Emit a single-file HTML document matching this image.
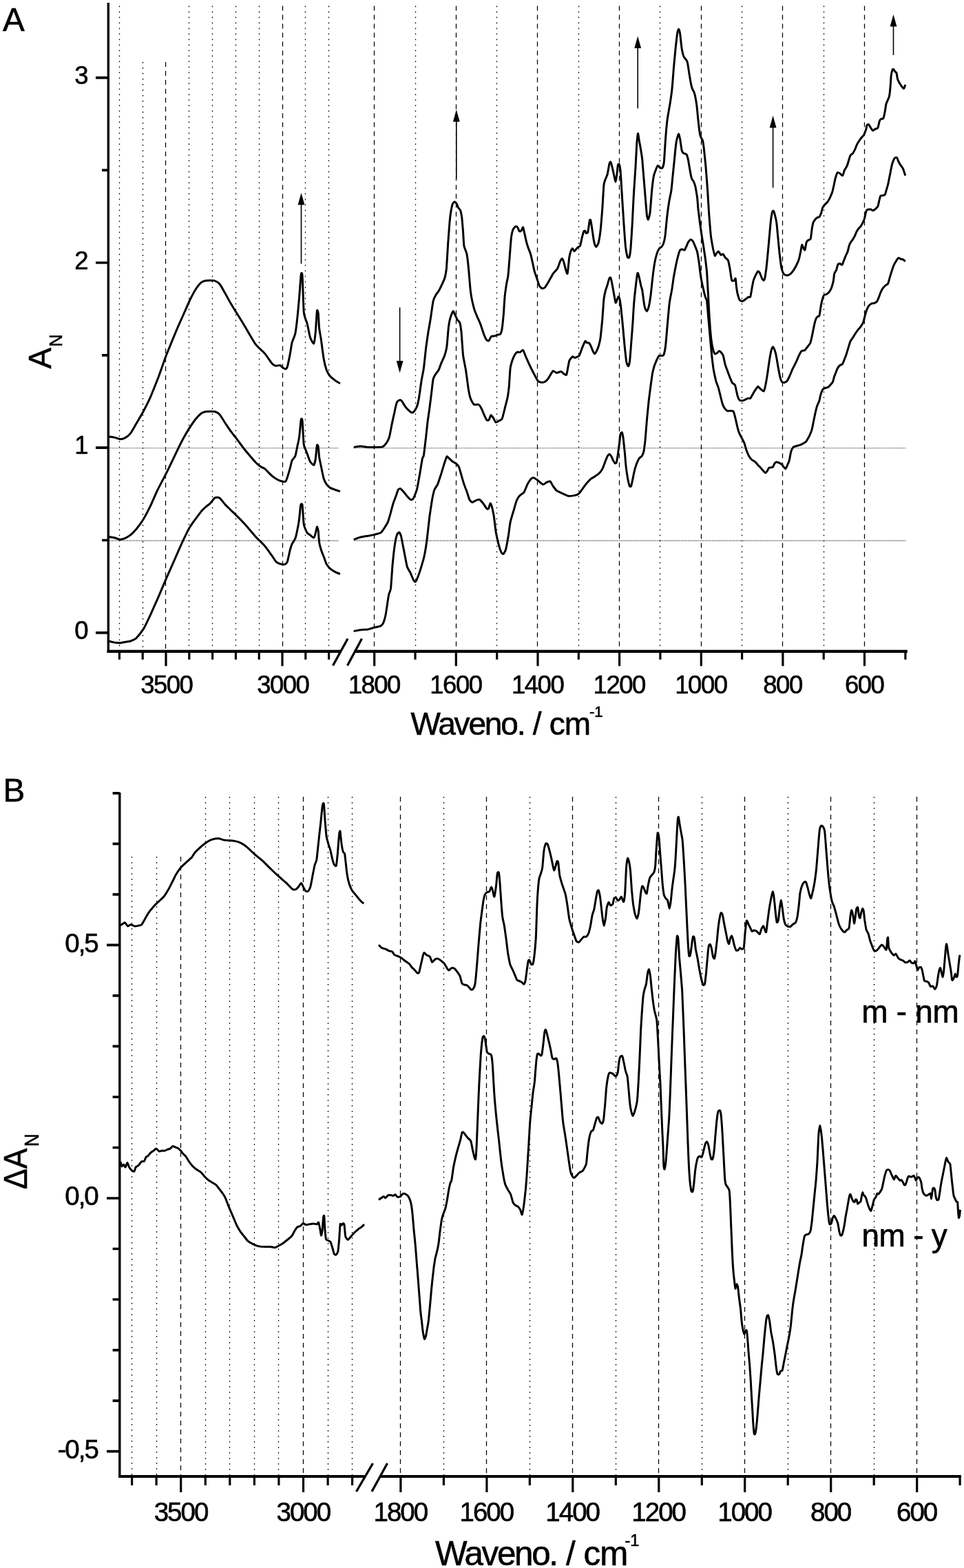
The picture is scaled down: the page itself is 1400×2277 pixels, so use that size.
<!DOCTYPE html>
<html><head><meta charset="utf-8"><title>Figure</title><style>
html,body{margin:0;padding:0;background:#fff;width:1400px;height:2277px;overflow:hidden}
svg{display:block}
.gd{stroke:#000;stroke-width:1.25;stroke-dasharray:7 6;fill:none}
.gt{stroke:#000;stroke-width:1.3;stroke-dasharray:1.7 6.3;fill:none}
.gh{stroke:#333;stroke-width:1.1;stroke-dasharray:1.3 1.2;fill:none}
.ax{stroke:#000;stroke-width:4.2;fill:none}
.ay{stroke:#000;stroke-width:3.4;fill:none}
.tk{stroke:#000;stroke-width:3.2;fill:none}
.tky{stroke:#000;stroke-width:3.7;fill:none}
.cv{stroke:#000;stroke-width:3.0;fill:none;stroke-linejoin:round;stroke-linecap:butt}
.tl{font-size:36.5px;fill:#000;letter-spacing:-1.5px}
.pl{font-size:47.5px;fill:#000}
.tb{font-size:38.5px;letter-spacing:-2.0px}
.at{font-size:46px;fill:#000}
.sup{font-size:22px;fill:#000}
.sub{font-size:25px;fill:#000}
text{font-family:"Liberation Sans",Arial,sans-serif;stroke:#000;stroke-width:0.6px}
</style></head><body>
<svg width="1400" height="2277" viewBox="0 0 1400 2277">
<rect width="1400" height="2277" fill="#fff"/>
<line x1="173.5" y1="8.5" x2="173.5" y2="945.8" class="gt"/>
<line x1="207.5" y1="90.0" x2="207.5" y2="945.8" class="gt"/>
<line x1="240.5" y1="90.0" x2="240.5" y2="945.8" class="gd"/>
<line x1="274.5" y1="8.5" x2="274.5" y2="945.8" class="gt"/>
<line x1="308.5" y1="8.5" x2="308.5" y2="945.8" class="gt"/>
<line x1="342.5" y1="8.5" x2="342.5" y2="945.8" class="gt"/>
<line x1="376.5" y1="8.5" x2="376.5" y2="945.8" class="gt"/>
<line x1="410.5" y1="8.5" x2="410.5" y2="945.8" class="gd"/>
<line x1="443.5" y1="8.5" x2="443.5" y2="945.8" class="gt"/>
<line x1="477.5" y1="8.5" x2="477.5" y2="945.8" class="gt"/>
<line x1="543.5" y1="8.5" x2="543.5" y2="945.8" class="gd"/>
<line x1="603.5" y1="8.5" x2="603.5" y2="945.8" class="gt"/>
<line x1="662.5" y1="8.5" x2="662.5" y2="945.8" class="gd"/>
<line x1="721.5" y1="8.5" x2="721.5" y2="945.8" class="gt"/>
<line x1="780.5" y1="8.5" x2="780.5" y2="945.8" class="gd"/>
<line x1="840.5" y1="8.5" x2="840.5" y2="945.8" class="gt"/>
<line x1="899.5" y1="8.5" x2="899.5" y2="945.8" class="gd"/>
<line x1="958.5" y1="8.5" x2="958.5" y2="945.8" class="gt"/>
<line x1="1018.5" y1="8.5" x2="1018.5" y2="945.8" class="gd"/>
<line x1="1077.5" y1="8.5" x2="1077.5" y2="945.8" class="gt"/>
<line x1="1136.5" y1="8.5" x2="1136.5" y2="945.8" class="gd"/>
<line x1="1196.5" y1="8.5" x2="1196.5" y2="945.8" class="gt"/>
<line x1="1255.5" y1="8.5" x2="1255.5" y2="945.8" class="gd"/>
<line x1="157.3" y1="650.7" x2="492.0" y2="650.7" class="gh"/>
<line x1="514.0" y1="650.7" x2="1316.0" y2="650.7" class="gh"/>
<line x1="157.3" y1="785.1" x2="492.0" y2="785.1" class="gh"/>
<line x1="514.0" y1="785.1" x2="1316.0" y2="785.1" class="gh"/>
<path d="M157.3 4.0 V947.9" class="ay"/>
<path d="M155.6 945.8 H495 M514.5 945.8 H1317.8" class="ax"/>
<path d="M173.4 945.8 v12.0 M207.2 945.8 v12.0 M241.0 945.8 v21.5 M274.8 945.8 v12.0 M308.6 945.8 v12.0 M342.4 945.8 v12.0 M376.2 945.8 v12.0 M410.0 945.8 v21.5 M443.8 945.8 v12.0 M477.6 945.8 v12.0 M543.7 945.8 v21.5 M603.0 945.8 v12.0 M662.3 945.8 v21.5 M721.7 945.8 v12.0 M781.0 945.8 v21.5 M840.3 945.8 v12.0 M899.6 945.8 v21.5 M958.9 945.8 v12.0 M1018.3 945.8 v21.5 M1077.6 945.8 v12.0 M1136.9 945.8 v21.5 M1196.2 945.8 v12.0 M1255.5 945.8 v21.5 M1314.9 945.8 v12.0" class="tk"/>
<path d="M157.3 918.8 h-18.3 M157.3 784.5 h-9.3 M157.3 650.1 h-18.3 M157.3 515.8 h-9.3 M157.3 381.5 h-18.3 M157.3 247.1 h-9.3 M157.3 112.8 h-18.3" class="tky"/>
<path d="M483.5 966.5 L505 927.5 M504.5 966.5 L525.5 927.5" stroke="#000" stroke-width="3.3" fill="none"/>
<text x="241.8" y="1007.3" class="tl" text-anchor="middle">3500</text>
<text x="410.8" y="1007.3" class="tl" text-anchor="middle">3000</text>
<text x="543.3" y="1007.3" class="tl" text-anchor="middle">1800</text>
<text x="661.9" y="1007.3" class="tl" text-anchor="middle">1600</text>
<text x="780.6" y="1007.3" class="tl" text-anchor="middle">1400</text>
<text x="899.2" y="1007.3" class="tl" text-anchor="middle">1200</text>
<text x="1017.9" y="1007.3" class="tl" text-anchor="middle">1000</text>
<text x="1136.5" y="1007.3" class="tl" text-anchor="middle">800</text>
<text x="1255.1" y="1007.3" class="tl" text-anchor="middle">600</text>
<text x="127.0" y="928.1" class="tl" text-anchor="end">0</text>
<text x="127.0" y="659.4" class="tl" text-anchor="end">1</text>
<text x="127.0" y="390.8" class="tl" text-anchor="end">2</text>
<text x="127.0" y="122.1" class="tl" text-anchor="end">3</text>
<text x="4" y="44.5" class="pl">A</text>
<text y="1067.0" style="font-size:46.0px"><tspan x="596.6" style="letter-spacing:-2.15px">Waveno.</tspan><tspan x="761.0"> / </tspan><tspan x="797.7" style="letter-spacing:-1.00px">cm</tspan></text>
<text x="856" y="1041" class="sup">-1</text>
<text transform="translate(74,535.5) rotate(-90)" class="at">A</text>
<text transform="translate(89.5,503.5) rotate(-90)" class="sub">N</text>
<path d="M157.9 634.1 C158.6 634.2 164.3 634.8 165.8 635.1 C167.3 635.5 173.1 637.7 174.5 637.7 C176.0 637.8 180.2 636.7 181.6 635.9 C183.0 635.1 188.1 631.1 189.5 629.3 C191.0 627.5 195.7 619.0 197.4 616.1 C199.1 613.2 206.0 601.3 208.0 597.7 C209.9 594.1 216.6 581.0 218.5 576.6 C220.4 572.3 226.9 555.8 229.1 550.3 C231.2 544.7 239.0 522.3 241.4 516.0 C243.9 509.7 253.2 487.1 255.4 481.8 C257.6 476.4 264.1 462.1 265.9 458.0 C267.8 453.9 273.5 440.5 275.2 437.0 C276.9 433.5 282.8 422.3 284.4 419.8 C286.0 417.4 291.0 411.2 292.3 410.1 C293.6 408.9 297.2 407.7 298.9 407.4 C300.6 407.2 308.9 407.0 310.7 407.4 C312.5 407.9 317.2 410.3 318.6 411.9 C320.1 413.5 325.1 422.6 326.5 425.1 C328.0 427.6 333.0 437.1 334.5 439.6 C335.9 442.1 340.7 449.6 342.6 452.8 C344.6 455.9 352.9 469.5 355.5 473.8 C358.2 478.2 368.7 496.6 371.3 500.2 C374.0 503.8 382.3 510.8 384.5 513.4 C386.7 515.9 393.6 526.2 395.1 527.9 C396.5 529.5 399.2 531.0 400.3 531.3 C401.4 531.5 406.1 530.3 406.9 530.5 C407.8 530.7 408.8 532.7 409.6 533.1 C410.3 533.6 414.1 535.9 414.8 535.8 C415.5 535.6 416.9 533.9 417.5 531.8 C418.1 529.8 420.8 516.5 421.4 513.4 C422.0 510.2 423.4 500.2 424.0 497.6 C424.7 494.9 428.1 487.8 428.8 484.4 C429.5 481.0 431.4 465.5 431.9 460.7 C432.5 455.8 434.1 437.4 434.6 431.7 C435.1 426.0 436.8 401.6 437.2 398.7 C437.6 395.8 438.7 395.1 439.1 400.1 C439.4 405.0 440.7 447.0 441.2 452.8 C441.6 458.6 443.3 461.6 443.8 463.3 C444.3 465.0 445.8 468.8 446.4 471.2 C447.0 473.6 449.5 487.1 450.4 489.7 C451.2 492.2 454.9 499.6 455.7 498.9 C456.4 498.2 457.9 486.1 458.3 481.8 C458.7 477.4 460.0 453.9 460.4 451.4 C460.8 449.0 462.0 453.1 462.3 455.4 C462.5 457.7 463.2 473.1 463.6 476.5 C463.9 479.9 465.6 488.2 466.2 492.3 C466.8 496.4 469.4 517.2 470.2 521.3 C470.9 525.4 473.3 534.8 474.1 537.1 C475.0 539.4 478.2 544.9 479.4 546.3 C480.6 547.8 486.0 551.9 487.3 552.9 C488.6 553.9 493.3 556.5 493.9 556.9" class="cv"/>
<path d="M157.9 779.5 C158.6 779.6 164.3 780.5 165.8 780.8 C167.3 781.2 173.1 783.4 174.5 783.5 C176.0 783.5 180.2 782.2 181.6 781.6 C183.0 781.0 188.1 778.0 189.5 776.9 C191.0 775.7 195.7 771.0 197.4 769.0 C199.1 766.9 206.0 757.6 208.0 754.5 C209.9 751.3 216.6 738.7 218.5 734.7 C220.4 730.7 226.9 715.3 229.1 711.0 C231.2 706.7 239.0 692.1 241.4 687.3 C243.9 682.5 253.2 662.9 255.4 658.3 C257.6 653.7 264.1 640.6 265.9 637.2 C267.8 633.8 273.5 624.1 275.2 621.4 C276.9 618.8 282.8 610.2 284.4 608.2 C286.0 606.3 291.0 601.3 292.3 600.3 C293.6 599.4 297.1 597.9 298.9 597.7 C300.7 597.5 310.2 597.3 312.1 597.7 C313.9 598.1 317.3 600.2 318.6 601.6 C320.0 603.1 325.1 611.3 326.5 613.5 C328.0 615.7 333.0 623.3 334.5 625.4 C335.9 627.4 340.7 633.4 342.6 635.9 C344.6 638.4 352.9 649.8 355.5 653.0 C358.2 656.3 369.2 669.2 371.3 671.5 C373.5 673.8 378.0 677.2 379.2 678.1 C380.5 678.9 383.1 679.5 384.5 680.7 C386.0 681.9 393.4 689.8 395.1 691.2 C396.8 692.7 401.6 695.8 403.0 696.5 C404.3 697.2 408.5 698.9 409.6 699.1 C410.6 699.4 414.1 699.7 414.8 699.1 C415.5 698.5 416.9 694.4 417.5 692.6 C418.1 690.7 420.8 681.6 421.4 679.4 C422.0 677.2 423.4 670.4 424.0 668.8 C424.7 667.3 428.1 664.2 428.8 662.3 C429.5 660.3 431.4 650.3 431.9 647.8 C432.5 645.2 434.1 638.1 434.6 634.6 C435.1 631.1 436.8 611.7 437.2 609.6 C437.6 607.4 438.7 607.6 439.1 610.9 C439.4 614.1 440.7 641.3 441.2 645.1 C441.6 649.0 443.3 651.7 443.8 653.0 C444.3 654.4 445.8 658.0 446.4 659.6 C447.0 661.2 449.5 668.7 450.4 670.2 C451.2 671.6 454.9 675.8 455.7 675.4 C456.4 675.1 457.9 668.9 458.3 666.2 C458.7 663.5 460.0 648.0 460.4 646.4 C460.8 644.9 462.0 647.5 462.3 649.1 C462.5 650.6 463.2 661.0 463.6 663.6 C463.9 666.1 465.6 673.8 466.2 676.7 C466.8 679.6 469.4 692.8 470.2 695.2 C470.9 697.6 473.3 701.9 474.1 703.1 C475.0 704.3 478.2 707.6 479.4 708.4 C480.6 709.1 486.0 711.0 487.3 711.5 C488.6 712.0 493.3 713.4 493.9 713.6" class="cv"/>
<path d="M157.9 931.0 C158.6 931.2 164.3 932.6 165.8 932.9 C167.3 933.1 173.1 933.7 174.5 933.7 C176.0 933.6 180.2 932.6 181.6 932.3 C183.0 932.1 188.1 931.5 189.5 931.0 C191.0 930.5 195.7 928.6 197.4 927.1 C199.1 925.5 206.0 917.0 208.0 913.9 C209.9 910.8 216.6 896.9 218.5 892.8 C220.4 888.7 226.9 873.9 229.1 869.1 C231.2 864.3 239.0 845.7 241.4 840.1 C243.9 834.6 253.2 813.6 255.4 808.5 C257.6 803.4 264.1 788.6 265.9 784.8 C267.8 780.9 273.5 769.2 275.2 766.3 C276.9 763.4 282.8 755.3 284.4 753.2 C286.0 751.0 291.0 744.2 292.3 742.6 C293.6 741.1 297.7 737.1 298.9 736.0 C300.1 734.9 304.3 732.0 305.5 730.8 C306.7 729.6 310.8 723.6 312.1 722.9 C313.3 722.1 317.3 722.0 318.6 722.9 C320.0 723.7 325.1 730.5 326.5 732.1 C328.0 733.7 333.0 738.5 334.5 740.0 C335.9 741.4 340.7 746.0 342.6 747.9 C344.6 749.8 352.9 758.2 355.5 761.1 C358.2 764.0 368.7 776.6 371.3 779.5 C374.0 782.4 382.3 790.2 384.5 792.7 C386.7 795.2 393.5 805.0 395.1 807.2 C396.6 809.4 400.3 815.3 401.6 816.4 C403.0 817.5 408.3 819.3 409.6 819.6 C410.8 819.8 414.1 819.4 414.8 819.0 C415.5 818.6 416.9 817.0 417.5 815.1 C418.1 813.2 420.8 800.3 421.4 798.0 C422.0 795.7 423.4 791.5 424.0 790.1 C424.7 788.6 428.1 784.1 428.8 782.1 C429.5 780.2 431.4 771.6 431.9 769.0 C432.5 766.3 434.2 756.4 434.6 753.2 C435.0 749.9 436.3 735.2 436.7 733.4 C437.1 731.6 438.7 730.9 439.1 733.4 C439.5 735.9 440.7 757.8 441.2 761.1 C441.6 764.3 443.3 767.8 443.8 769.0 C444.3 770.2 445.8 773.5 446.4 774.2 C447.0 775.0 449.5 776.3 450.4 776.9 C451.2 777.5 454.9 781.1 455.7 780.8 C456.4 780.6 457.9 775.7 458.3 774.2 C458.7 772.8 460.0 765.3 460.4 765.0 C460.8 764.8 462.0 769.6 462.3 771.6 C462.5 773.7 463.2 785.0 463.6 787.4 C463.9 789.8 465.6 796.0 466.2 798.0 C466.8 799.9 469.4 806.6 470.2 808.5 C470.9 810.4 473.3 817.5 474.1 819.0 C475.0 820.6 478.2 824.5 479.4 825.6 C480.6 826.7 486.0 830.2 487.3 830.9 C488.6 831.6 493.3 833.3 493.9 833.5" class="cv"/>
<path d="M513.7 649.4 C514.6 649.3 521.8 648.1 523.7 648.1 C525.6 648.1 532.4 649.3 534.3 649.4 C536.1 649.5 541.5 649.5 543.5 649.4 C545.4 649.4 553.8 649.4 555.3 648.9 C556.9 648.4 559.7 645.4 560.6 644.1 C561.5 642.9 564.6 637.5 565.3 634.9 C566.1 632.4 568.4 619.6 569.0 616.5 C569.7 613.3 571.8 603.6 572.5 600.7 C573.1 597.7 575.7 586.1 576.4 584.3 C577.1 582.5 579.7 581.0 580.4 580.9 C581.0 580.8 583.1 581.9 583.8 582.7 C584.5 583.6 587.4 588.9 588.3 590.1 C589.2 591.3 592.6 595.1 593.5 595.9 C594.5 596.8 597.6 599.2 598.3 599.3 C599.0 599.5 600.8 598.3 601.4 597.5 C602.1 596.7 604.7 592.5 605.4 590.6 C606.1 588.8 608.0 580.4 608.6 576.9 C609.2 573.5 611.4 557.1 612.0 553.2 C612.6 549.4 614.8 539.1 615.4 534.8 C616.0 530.4 618.0 510.6 618.6 505.8 C619.2 501.0 621.4 485.9 622.0 482.1 C622.6 478.2 624.5 467.7 625.2 463.6 C625.8 459.5 628.4 440.5 629.1 437.3 C629.8 434.0 632.3 429.4 633.1 428.1 C633.8 426.7 636.3 424.0 637.0 422.8 C637.7 421.6 640.2 416.6 641.0 414.9 C641.8 413.2 645.0 406.6 645.7 404.3 C646.4 402.1 647.9 394.6 648.4 389.9 C648.8 385.1 650.3 359.5 650.7 353.0 C651.2 346.4 652.8 323.8 653.4 318.7 C653.9 313.6 656.2 300.0 656.8 297.6 C657.4 295.3 659.6 293.0 660.2 292.9 C660.8 292.8 662.9 295.5 663.4 296.3 C663.9 297.1 665.0 300.7 665.5 301.6 C666.0 302.4 668.2 304.2 668.6 305.5 C669.1 306.9 670.4 313.2 670.8 316.1 C671.1 319.0 672.3 333.4 672.6 337.2 C672.9 340.9 673.4 354.0 673.9 356.9 C674.4 359.8 677.3 365.8 677.9 368.8 C678.5 371.8 680.0 384.7 680.5 389.9 C681.0 395.0 682.9 420.1 683.7 425.4 C684.4 430.7 687.6 444.8 688.4 447.8 C689.2 450.8 691.5 456.3 692.4 458.4 C693.2 460.4 696.7 467.7 697.6 470.2 C698.6 472.8 702.1 483.9 702.9 486.0 C703.7 488.2 706.2 493.1 706.9 493.9 C707.5 494.7 709.4 495.2 710.0 494.7 C710.6 494.2 712.6 489.3 713.4 488.7 C714.2 488.0 717.9 488.1 718.7 487.9 C719.6 487.6 721.9 486.3 722.7 486.0 C723.4 485.8 726.0 486.1 726.6 485.2 C727.2 484.4 728.8 479.5 729.2 476.8 C729.7 474.1 731.0 460.1 731.4 455.7 C731.7 451.4 732.8 433.5 733.2 429.4 C733.6 425.3 735.4 413.6 735.8 410.9 C736.3 408.3 737.5 404.0 737.9 400.4 C738.4 396.8 739.9 376.5 740.3 371.4 C740.7 366.3 742.0 348.6 742.4 345.1 C742.9 341.6 744.5 334.7 745.1 333.2 C745.7 331.7 748.4 329.0 749.0 328.7 C749.6 328.4 751.2 329.4 751.6 330.0 C752.1 330.7 753.8 335.4 754.3 335.8 C754.8 336.3 756.4 335.8 756.9 335.3 C757.4 334.8 759.1 329.7 759.6 330.0 C760.0 330.3 761.2 336.6 761.7 338.5 C762.1 340.3 763.8 348.3 764.3 350.3 C764.8 352.4 766.9 359.3 767.5 360.9 C768.0 362.4 769.6 365.9 770.1 367.5 C770.6 369.0 772.2 375.6 772.7 378.0 C773.3 380.4 775.5 391.5 776.2 393.8 C776.8 396.1 778.7 401.1 779.3 403.0 C780.0 405.0 782.5 413.4 783.3 414.9 C784.0 416.3 786.5 418.6 787.2 418.8 C787.9 419.1 790.3 418.4 791.2 417.5 C792.0 416.7 795.4 411.4 796.4 409.6 C797.5 407.8 801.8 399.6 803.0 397.8 C804.2 395.9 808.7 391.5 809.6 389.9 C810.6 388.2 813.0 380.6 813.6 379.3 C814.2 378.0 815.7 375.2 816.2 375.4 C816.7 375.5 818.4 379.2 818.8 380.6 C819.3 382.1 821.0 389.7 821.5 391.2 C822.0 392.7 823.6 398.8 824.1 397.2 C824.6 395.7 826.3 377.1 826.7 374.0 C827.2 371.0 828.9 364.7 829.4 363.5 C829.8 362.3 831.1 360.7 831.5 360.9 C831.9 361.0 833.5 364.9 834.1 364.8 C834.8 364.7 837.8 360.3 838.6 359.6 C839.4 358.8 842.0 358.2 842.6 356.9 C843.2 355.6 844.7 347.0 845.2 345.1 C845.7 343.1 847.4 336.7 847.8 335.8 C848.3 334.9 849.6 335.1 849.9 335.3 C850.2 335.6 850.7 338.4 851.1 338.6 C851.4 338.8 853.2 339.0 853.7 337.3 C854.2 335.6 856.0 321.7 856.3 320.2 C856.7 318.6 857.5 318.6 857.9 320.2 C858.3 321.7 860.1 334.3 860.6 337.3 C861.0 340.3 862.7 351.2 863.2 353.1 C863.7 355.0 865.3 358.4 865.8 358.4 C866.4 358.4 868.4 355.3 869.0 353.1 C869.6 350.9 871.6 339.2 872.1 334.7 C872.7 330.1 874.3 309.1 874.8 303.0 C875.2 297.0 876.5 272.6 876.9 268.8 C877.3 264.9 878.5 262.3 879.0 260.9 C879.5 259.4 881.6 255.0 882.2 253.0 C882.7 250.9 884.4 240.1 884.8 238.5 C885.2 236.8 886.3 234.8 886.6 235.0 C887.0 235.3 888.3 239.5 888.7 241.1 C889.2 242.7 890.9 250.8 891.4 253.0 C891.9 255.1 893.6 264.3 894.0 264.3 C894.4 264.3 895.5 255.2 895.9 253.0 C896.2 250.7 897.1 241.1 897.4 239.8 C897.8 238.5 899.0 237.6 899.3 238.5 C899.6 239.3 900.8 245.0 901.1 249.0 C901.5 253.0 902.8 275.1 903.2 281.9 C903.7 288.8 905.4 317.1 905.9 324.1 C906.4 331.1 908.0 353.9 908.5 358.4 C909.0 362.8 910.7 371.5 911.1 372.9 C911.6 374.3 913.3 374.7 913.8 373.6 C914.2 372.6 915.5 365.5 915.9 361.0 C916.3 356.5 917.9 331.4 918.3 324.1 C918.7 316.9 919.9 289.4 920.4 281.9 C920.8 274.5 922.6 249.2 923.0 242.4 C923.4 235.7 924.5 212.6 924.8 208.2 C925.2 203.7 926.1 194.0 926.4 193.7 C926.7 193.3 927.9 201.9 928.3 204.2 C928.7 206.5 930.5 216.2 930.9 218.7 C931.3 221.2 932.4 228.3 932.8 231.9 C933.1 235.5 934.4 252.9 934.9 258.2 C935.3 263.5 937.1 284.8 937.5 289.9 C937.9 294.9 939.2 310.9 939.6 313.6 C940.0 316.2 941.0 319.3 941.4 318.8 C941.9 318.4 943.6 312.2 944.1 308.3 C944.6 304.4 946.2 281.5 946.7 276.7 C947.2 271.8 948.9 258.3 949.4 255.6 C949.8 252.9 951.5 249.1 952.0 247.7 C952.5 246.3 954.5 240.9 955.2 240.6 C955.8 240.2 957.9 243.5 958.6 243.7 C959.2 244.0 961.5 244.6 962.0 243.7 C962.5 242.9 964.0 238.3 964.4 234.5 C964.8 230.8 966.0 208.5 966.5 202.9 C966.9 197.3 968.5 178.7 969.1 173.9 C969.7 169.1 972.5 154.1 973.1 150.2 C973.7 146.3 975.2 136.3 975.7 131.8 C976.2 127.2 977.9 105.7 978.3 100.1 C978.8 94.6 980.5 75.9 981.0 71.1 C981.5 66.4 983.2 51.4 983.6 48.7 C984.0 46.1 985.4 42.2 985.7 42.2 C986.1 42.2 987.2 46.1 987.6 48.7 C988.0 51.4 989.7 68.1 990.2 71.1 C990.7 74.2 992.3 80.4 992.8 81.7 C993.3 83.0 995.0 84.9 995.5 85.6 C996.0 86.4 997.6 87.8 998.1 89.6 C998.6 91.4 1000.3 102.5 1000.7 105.4 C1001.2 108.3 1002.9 119.0 1003.4 121.2 C1003.8 123.4 1005.0 127.8 1005.5 129.1 C1006.0 130.4 1008.1 133.5 1008.6 135.7 C1009.2 137.9 1011.3 149.3 1011.8 152.8 C1012.3 156.3 1013.5 170.0 1013.9 173.9 C1014.3 177.8 1016.1 192.6 1016.5 195.0 C1017.0 197.4 1018.0 199.4 1018.4 200.3 C1018.8 201.1 1020.1 202.5 1020.5 204.2 C1020.9 205.9 1022.2 215.0 1022.6 218.7 C1023.0 222.5 1024.8 239.7 1025.2 245.1 C1025.7 250.4 1027.2 270.6 1027.6 276.7 C1028.0 282.7 1029.3 304.9 1029.7 310.9 C1030.2 317.0 1031.8 338.0 1032.4 342.6 C1032.9 347.1 1035.0 358.3 1035.5 361.0 C1036.1 363.7 1037.7 370.9 1038.2 371.5 C1038.6 372.1 1040.3 368.2 1040.8 367.6 C1041.3 367.0 1042.9 364.7 1043.4 365.0 C1044.0 365.2 1046.2 369.9 1046.9 370.2 C1047.5 370.6 1049.4 368.5 1050.0 368.9 C1050.6 369.3 1052.8 373.3 1053.4 374.2 C1054.1 375.0 1056.8 376.7 1057.4 378.1 C1058.0 379.6 1059.5 387.3 1060.0 390.0 C1060.5 392.6 1062.1 405.5 1062.7 407.1 C1063.3 408.7 1066.1 407.4 1066.6 407.1 C1067.1 406.9 1067.9 403.4 1068.2 404.5 C1068.5 405.6 1069.4 416.7 1069.8 419.0 C1070.1 421.3 1071.4 427.9 1071.9 429.5 C1072.3 431.1 1073.9 435.4 1074.5 436.1 C1075.1 436.8 1077.7 437.5 1078.5 437.4 C1079.2 437.3 1081.7 435.3 1082.4 434.8 C1083.1 434.3 1085.7 432.0 1086.4 431.6 C1087.1 431.3 1089.2 432.2 1089.8 430.8 C1090.4 429.4 1092.0 418.5 1092.4 416.3 C1092.8 414.2 1093.8 408.7 1094.3 407.1 C1094.8 405.5 1097.1 400.4 1097.7 399.2 C1098.3 398.0 1100.3 394.2 1100.9 393.9 C1101.4 393.7 1103.0 395.6 1103.5 396.6 C1104.0 397.5 1106.1 403.5 1106.7 404.5 C1107.2 405.4 1108.9 407.5 1109.3 407.1 C1109.7 406.8 1111.0 403.1 1111.4 400.5 C1111.8 398.0 1113.6 384.0 1114.0 379.4 C1114.5 374.9 1116.2 355.8 1116.7 350.5 C1117.2 345.1 1118.9 325.3 1119.3 321.5 C1119.7 317.6 1121.1 309.7 1121.4 308.3 C1121.8 306.9 1122.9 305.8 1123.3 306.2 C1123.6 306.6 1125.0 310.7 1125.4 312.3 C1125.8 313.8 1127.3 319.8 1127.7 322.8 C1128.2 325.8 1129.4 340.7 1129.9 345.2 C1130.3 349.7 1132.0 367.4 1132.5 371.5 C1133.0 375.6 1134.6 387.6 1135.1 390.0 C1135.7 392.4 1137.6 397.0 1138.3 397.9 C1139.0 398.8 1142.2 400.0 1143.0 400.0 C1143.9 400.0 1146.9 398.6 1147.8 397.9 C1148.6 397.2 1151.5 393.7 1152.3 392.6 C1153.0 391.5 1155.5 387.5 1156.2 386.0 C1156.9 384.6 1159.6 378.7 1160.2 376.8 C1160.8 374.9 1162.4 366.9 1162.8 365.0 C1163.2 363.0 1164.3 356.2 1164.6 355.7 C1165.0 355.2 1166.4 359.0 1166.7 359.7 C1167.1 360.4 1168.4 363.8 1168.9 363.1 C1169.3 362.4 1170.8 353.1 1171.2 351.8 C1171.6 350.5 1172.8 349.6 1173.3 349.1 C1173.9 348.7 1176.7 348.2 1177.3 346.5 C1177.8 344.8 1179.0 332.9 1179.4 330.7 C1179.8 328.5 1180.8 323.9 1181.2 322.8 C1181.6 321.7 1183.4 319.4 1183.9 318.8 C1184.4 318.2 1186.0 316.6 1186.5 316.2 C1187.1 315.8 1189.4 315.5 1189.9 314.9 C1190.5 314.3 1192.1 310.5 1192.6 309.3 C1193.0 308.0 1194.3 302.5 1194.8 301.4 C1195.3 300.2 1197.6 297.6 1198.2 296.8 C1198.8 296.1 1201.0 294.3 1201.6 293.5 C1202.2 292.6 1204.3 289.2 1205.0 287.8 C1205.6 286.5 1208.2 280.5 1208.8 278.8 C1209.4 277.0 1210.6 270.5 1211.1 268.6 C1211.5 266.8 1212.8 260.1 1213.3 258.5 C1213.8 256.8 1215.7 251.2 1216.3 250.6 C1216.8 249.9 1219.0 251.3 1219.6 251.7 C1220.3 252.1 1223.1 255.5 1223.7 255.1 C1224.3 254.7 1225.9 248.4 1226.4 247.2 C1227.0 245.9 1229.2 242.9 1229.8 241.5 C1230.4 240.2 1232.3 234.0 1232.7 232.5 C1233.2 231.1 1234.4 226.7 1235.0 225.7 C1235.5 224.8 1238.2 223.2 1238.8 222.3 C1239.4 221.5 1241.2 217.8 1241.8 216.7 C1242.3 215.6 1243.9 211.1 1244.5 209.9 C1245.0 208.8 1247.2 205.2 1247.9 204.3 C1248.5 203.4 1250.6 200.5 1251.2 199.8 C1251.9 199.0 1254.0 197.0 1254.6 195.9 C1255.2 194.9 1257.1 189.8 1257.6 188.5 C1258.0 187.2 1258.8 182.4 1259.1 181.7 C1259.5 181.0 1260.9 180.3 1261.4 180.6 C1261.9 180.9 1263.8 184.3 1264.3 185.1 C1264.9 185.9 1266.9 189.4 1267.5 189.6 C1268.1 189.8 1270.4 187.7 1271.1 187.4 C1271.8 187.0 1274.4 186.6 1274.9 185.6 C1275.5 184.5 1276.8 177.3 1277.2 176.1 C1277.6 174.9 1278.9 173.1 1279.5 172.7 C1280.0 172.3 1282.3 172.9 1282.8 172.0 C1283.4 171.1 1284.7 164.4 1285.1 162.5 C1285.5 160.6 1286.5 152.8 1286.9 151.2 C1287.3 149.7 1288.8 146.6 1289.2 145.6 C1289.6 144.6 1291.1 141.7 1291.4 140.0 C1291.8 138.2 1292.8 129.1 1293.0 126.4 C1293.3 123.7 1293.9 112.9 1294.1 110.6 C1294.4 108.3 1295.6 102.5 1295.9 101.6 C1296.2 100.6 1297.2 100.2 1297.5 100.5 C1297.9 100.7 1299.4 103.3 1299.8 103.8 C1300.2 104.4 1301.7 105.1 1302.0 106.1 C1302.4 107.1 1303.2 113.8 1303.6 115.1 C1304.0 116.5 1306.0 119.8 1306.5 120.8 C1307.1 121.7 1308.9 124.6 1309.5 125.3 C1310.0 126.0 1312.1 128.9 1312.6 128.7 C1313.1 128.5 1314.7 123.5 1314.9 123.0" class="cv"/>
<path d="M513.7 783.5 C514.6 783.2 521.8 780.5 523.7 780.0 C525.6 779.6 532.4 778.5 534.3 778.2 C536.1 777.9 541.8 776.8 543.5 776.4 C545.2 775.9 551.5 774.4 552.7 773.7 C553.9 773.0 555.7 770.4 556.7 769.0 C557.6 767.6 562.3 760.6 563.2 758.4 C564.2 756.3 566.5 747.8 567.2 745.3 C567.9 742.7 570.4 733.1 571.1 730.8 C571.9 728.5 574.4 722.0 575.1 720.2 C575.8 718.4 577.7 712.0 578.3 711.0 C578.9 710.0 581.0 709.4 581.7 709.7 C582.4 709.9 584.8 712.7 585.6 713.6 C586.5 714.6 589.9 719.1 590.9 720.2 C591.9 721.3 595.3 725.1 596.2 725.5 C597.0 725.9 599.3 725.5 600.1 724.2 C601.0 722.8 604.6 714.1 605.4 711.0 C606.2 707.9 608.6 694.0 609.4 689.9 C610.1 685.8 612.8 668.8 613.3 666.2 C613.9 663.6 614.9 664.1 615.4 661.3 C615.9 658.4 618.0 639.5 618.6 634.9 C619.1 630.3 620.7 615.1 621.2 611.2 C621.7 607.3 623.4 596.4 623.8 592.8 C624.3 589.1 626.0 575.5 626.5 571.7 C627.0 567.8 628.5 553.2 629.1 550.6 C629.7 547.9 632.3 543.9 633.1 542.7 C633.8 541.5 636.3 538.9 637.0 537.4 C637.7 536.0 640.2 528.8 641.0 526.9 C641.8 524.9 645.0 518.5 645.7 516.3 C646.4 514.2 648.3 507.0 648.9 503.2 C649.4 499.3 651.0 478.0 651.5 474.2 C652.0 470.3 653.5 463.1 654.2 461.0 C654.8 458.9 657.5 452.0 658.1 451.8 C658.8 451.5 660.7 457.2 661.3 458.4 C661.9 459.6 664.1 464.0 664.7 465.0 C665.3 465.9 667.4 467.3 667.9 468.9 C668.3 470.5 669.5 477.7 670.0 482.1 C670.4 486.4 672.0 511.3 672.6 516.3 C673.2 521.4 675.8 532.8 676.5 537.4 C677.3 542.0 679.8 562.5 680.5 566.4 C681.2 570.3 682.9 577.6 683.7 579.6 C684.4 581.5 687.4 586.8 688.4 587.5 C689.4 588.2 694.0 587.0 695.0 587.5 C696.0 588.0 698.2 591.4 698.9 592.8 C699.7 594.1 702.2 600.4 702.9 602.0 C703.6 603.5 706.2 609.2 706.9 609.9 C707.5 610.6 709.5 610.5 710.0 609.9 C710.6 609.2 712.3 603.0 712.9 602.8 C713.5 602.5 715.9 606.3 716.6 607.2 C717.3 608.2 719.2 613.0 720.0 613.3 C720.8 613.6 724.5 611.2 725.3 610.7 C726.1 610.2 728.5 609.7 729.2 608.0 C730.0 606.4 732.5 595.6 733.2 592.8 C733.9 589.9 736.6 579.8 737.2 576.9 C737.7 574.0 738.9 565.0 739.3 561.1 C739.6 557.3 740.7 538.2 741.1 534.8 C741.5 531.4 743.1 526.1 743.7 524.2 C744.3 522.4 747.0 516.2 747.7 515.0 C748.4 513.8 751.0 511.4 751.6 511.1 C752.3 510.8 754.3 511.8 755.1 511.6 C755.8 511.4 758.8 507.9 759.6 508.4 C760.3 509.0 762.7 515.7 763.5 517.7 C764.4 519.6 767.7 527.2 768.8 529.5 C769.9 531.8 774.2 540.5 775.4 542.7 C776.5 544.9 780.2 552.1 781.2 553.2 C782.1 554.4 785.0 555.2 785.9 555.3 C786.8 555.5 790.2 555.1 791.2 554.5 C792.1 554.0 795.4 550.7 796.4 549.3 C797.5 547.8 801.9 539.5 803.0 538.7 C804.1 538.0 807.2 541.3 808.3 541.4 C809.4 541.4 813.9 539.4 814.9 539.5 C815.9 539.6 818.1 542.3 818.8 542.7 C819.6 543.1 822.1 545.7 822.8 544.0 C823.5 542.3 825.9 526.7 826.7 524.2 C827.5 521.8 830.8 518.1 831.5 517.7 C832.2 517.2 833.8 519.6 834.7 519.5 C835.5 519.4 840.3 517.6 841.2 516.3 C842.2 515.1 844.4 507.7 845.2 505.8 C846.0 503.9 849.3 496.0 849.9 495.3 C850.5 494.5 851.4 497.2 851.9 497.5 C852.3 497.8 854.7 497.6 855.3 498.0 C855.8 498.4 857.4 500.9 857.9 502.0 C858.4 503.1 860.5 508.8 861.1 509.9 C861.6 511.0 863.2 513.8 863.7 513.8 C864.2 513.8 865.8 511.0 866.4 509.9 C866.9 508.8 869.0 503.8 869.5 502.0 C870.0 500.2 871.7 493.6 872.1 490.1 C872.6 486.6 874.3 468.8 874.8 463.8 C875.2 458.7 876.5 438.6 876.9 434.8 C877.3 430.9 879.0 423.5 879.5 421.6 C880.0 419.7 881.7 415.3 882.2 413.7 C882.6 412.1 884.4 405.4 884.8 404.5 C885.2 403.5 886.3 402.6 886.6 403.2 C887.0 403.8 888.3 409.0 888.7 411.1 C889.2 413.1 890.9 423.0 891.4 425.6 C891.9 428.2 893.6 438.6 894.0 439.5 C894.4 440.5 895.5 436.9 895.9 436.1 C896.2 435.3 897.6 431.0 898.0 430.8 C898.4 430.7 899.7 433.2 900.1 434.8 C900.4 436.4 901.5 444.3 901.9 448.0 C902.3 451.6 904.1 469.2 904.6 474.3 C905.0 479.4 906.7 498.6 907.2 503.3 C907.7 508.0 909.3 523.1 909.8 525.7 C910.3 528.3 912.0 531.9 912.5 531.8 C912.9 531.6 914.2 527.7 914.6 524.4 C915.0 521.0 916.5 500.7 916.9 495.4 C917.4 490.1 918.7 472.0 919.1 466.4 C919.4 460.8 920.7 439.9 921.2 434.8 C921.6 429.7 923.4 414.6 923.8 411.1 C924.2 407.6 925.5 397.5 925.9 396.6 C926.3 395.6 927.3 398.8 927.7 400.5 C928.2 402.2 930.5 413.1 930.9 415.0 C931.4 417.0 932.4 419.6 932.8 421.6 C933.1 423.7 934.5 435.0 934.9 437.4 C935.2 439.8 936.5 446.6 937.0 448.0 C937.4 449.3 939.1 452.2 939.6 451.9 C940.1 451.7 941.8 447.4 942.2 445.3 C942.7 443.3 944.4 433.1 944.9 429.5 C945.4 425.9 947.0 410.1 947.5 405.8 C948.0 401.4 950.1 385.5 950.7 382.1 C951.3 378.7 953.2 370.8 953.8 368.9 C954.4 367.0 956.6 362.0 957.3 361.0 C957.9 360.0 960.1 359.0 960.7 358.4 C961.2 357.8 962.8 355.9 963.3 354.4 C963.8 353.0 965.5 346.1 966.0 342.6 C966.4 339.1 968.1 320.8 968.6 316.2 C969.1 311.6 971.2 296.1 971.8 292.5 C972.3 288.9 974.4 280.1 974.9 276.7 C975.4 273.3 976.6 259.9 977.0 255.6 C977.5 251.3 979.2 233.8 979.7 229.2 C980.1 224.7 981.8 208.7 982.3 205.5 C982.8 202.3 985.0 194.8 985.5 194.5 C985.9 194.1 987.1 199.4 987.6 201.6 C988.0 203.8 989.7 216.8 990.2 218.7 C990.7 220.6 992.2 222.2 992.8 222.7 C993.4 223.1 996.2 223.1 996.8 224.0 C997.4 224.8 998.9 229.7 999.4 231.9 C999.9 234.1 1001.6 245.2 1002.1 247.7 C1002.5 250.2 1004.2 258.1 1004.7 259.6 C1005.2 261.0 1006.8 262.4 1007.3 263.5 C1007.8 264.6 1009.5 269.2 1010.0 271.4 C1010.4 273.6 1012.2 284.3 1012.6 287.2 C1013.0 290.1 1013.6 299.6 1013.9 303.0 C1014.3 306.4 1016.1 320.5 1016.5 324.1 C1017.0 327.7 1018.7 339.4 1019.2 342.6 C1019.7 345.7 1021.3 355.2 1021.8 358.4 C1022.3 361.5 1024.0 373.4 1024.5 376.8 C1024.9 380.2 1026.2 390.7 1026.6 395.3 C1026.9 399.8 1028.1 420.8 1028.4 426.9 C1028.7 432.9 1029.8 455.1 1030.3 461.1 C1030.7 467.2 1032.4 488.5 1032.9 492.8 C1033.4 497.0 1035.0 505.3 1035.5 507.2 C1036.0 509.2 1037.6 513.4 1038.2 513.8 C1038.7 514.3 1041.0 512.9 1041.6 512.5 C1042.1 512.2 1043.7 510.0 1044.2 509.9 C1044.7 509.8 1046.3 510.6 1046.9 511.2 C1047.4 511.8 1049.7 514.9 1050.3 516.5 C1050.8 518.0 1052.4 526.4 1052.9 528.3 C1053.4 530.3 1055.4 535.7 1056.1 537.5 C1056.7 539.4 1059.4 546.4 1060.0 548.1 C1060.7 549.8 1062.8 555.0 1063.5 556.0 C1064.1 557.0 1066.6 557.7 1067.1 558.6 C1067.7 559.6 1068.9 565.0 1069.2 566.5 C1069.6 568.1 1070.9 574.4 1071.4 575.8 C1071.8 577.1 1073.3 580.5 1074.0 581.0 C1074.6 581.6 1077.7 581.9 1078.5 581.8 C1079.2 581.7 1081.7 580.6 1082.4 580.2 C1083.1 579.9 1085.7 578.6 1086.4 578.4 C1087.1 578.2 1089.1 579.1 1089.8 578.4 C1090.5 577.7 1093.6 571.7 1094.3 570.5 C1095.0 569.3 1097.1 566.1 1097.7 565.2 C1098.3 564.4 1100.3 561.4 1100.9 561.3 C1101.4 561.1 1103.0 563.4 1103.5 563.9 C1104.0 564.4 1106.1 566.2 1106.7 566.5 C1107.2 566.9 1108.8 568.6 1109.3 567.9 C1109.8 567.1 1111.5 560.9 1111.9 558.6 C1112.4 556.3 1114.1 546.0 1114.6 542.8 C1115.1 539.7 1116.7 527.4 1117.2 524.4 C1117.7 521.4 1119.4 511.8 1119.8 509.9 C1120.3 508.0 1122.0 503.9 1122.5 503.8 C1123.0 503.7 1124.6 507.2 1125.1 508.6 C1125.6 510.0 1127.3 516.7 1127.7 519.1 C1128.2 521.5 1129.9 532.3 1130.4 534.9 C1130.9 537.6 1132.5 546.3 1133.0 548.1 C1133.5 549.9 1135.1 554.0 1135.7 554.7 C1136.2 555.4 1138.4 555.6 1139.1 555.5 C1139.8 555.3 1142.3 554.3 1143.0 553.4 C1143.8 552.4 1146.3 547.0 1147.0 545.5 C1147.7 543.9 1150.1 538.0 1150.9 536.2 C1151.8 534.4 1155.4 527.5 1156.2 525.7 C1157.1 523.9 1159.4 517.9 1160.2 516.5 C1160.9 515.0 1163.3 510.6 1164.1 509.9 C1164.9 509.2 1168.1 509.0 1168.9 508.6 C1169.6 508.1 1171.3 505.6 1172.0 504.6 C1172.7 503.6 1176.1 499.6 1176.8 498.0 C1177.4 496.5 1178.9 489.7 1179.4 487.5 C1179.9 485.3 1181.5 476.5 1182.0 474.3 C1182.5 472.1 1184.2 465.1 1184.7 463.8 C1185.1 462.4 1186.8 460.3 1187.3 459.8 C1187.8 459.3 1189.5 459.9 1189.9 458.5 C1190.4 457.1 1191.7 447.0 1192.1 444.8 C1192.5 442.6 1193.9 436.1 1194.4 434.7 C1194.8 433.2 1196.1 429.2 1196.6 428.6 C1197.2 427.9 1199.8 427.6 1200.5 427.2 C1201.1 426.8 1203.2 425.3 1203.8 424.5 C1204.5 423.7 1206.6 420.3 1207.2 418.8 C1207.8 417.4 1209.7 410.7 1210.2 408.7 C1210.6 406.7 1211.3 399.0 1211.7 397.4 C1212.2 395.9 1214.2 393.0 1214.7 391.8 C1215.1 390.5 1216.5 384.7 1216.9 383.9 C1217.4 383.0 1219.1 382.7 1219.6 382.7 C1220.2 382.8 1222.4 385.1 1223.0 384.5 C1223.6 384.0 1225.4 378.4 1226.0 377.1 C1226.5 375.8 1228.2 371.4 1228.7 370.3 C1229.1 369.3 1230.5 367.0 1230.9 365.8 C1231.3 364.6 1232.8 358.0 1233.2 356.8 C1233.6 355.5 1234.7 353.1 1235.1 352.4 C1235.6 351.6 1237.5 349.3 1238.0 348.5 C1238.5 347.7 1240.4 344.7 1240.9 343.7 C1241.4 342.6 1243.3 338.0 1243.8 336.9 C1244.3 335.9 1246.2 332.8 1246.7 332.1 C1247.2 331.4 1249.0 329.9 1249.6 329.2 C1250.1 328.5 1251.9 325.5 1252.5 324.4 C1253.0 323.3 1254.9 319.1 1255.4 317.6 C1255.8 316.2 1257.0 310.1 1257.3 309.0 C1257.6 307.8 1258.4 305.6 1258.8 305.1 C1259.3 304.7 1261.5 304.2 1262.1 304.1 C1262.7 304.1 1264.5 304.0 1265.0 304.1 C1265.5 304.3 1267.3 305.8 1267.9 305.7 C1268.5 305.6 1271.1 303.8 1271.8 303.2 C1272.4 302.6 1274.6 300.5 1275.0 299.3 C1275.5 298.2 1276.6 292.0 1277.0 290.6 C1277.3 289.3 1278.4 285.1 1278.9 284.5 C1279.4 283.9 1281.8 284.1 1282.4 283.9 C1282.9 283.7 1284.8 283.3 1285.3 282.5 C1285.7 281.8 1286.8 277.6 1287.2 276.2 C1287.6 274.8 1289.3 269.2 1289.7 267.5 C1290.1 265.8 1291.3 259.6 1291.6 257.9 C1292.0 256.1 1293.2 250.0 1293.5 248.2 C1293.9 246.4 1295.1 240.0 1295.5 238.6 C1295.9 237.1 1297.4 233.3 1297.8 232.4 C1298.2 231.5 1299.7 229.2 1300.1 228.9 C1300.5 228.6 1302.2 228.5 1302.6 228.9 C1303.0 229.4 1304.2 233.0 1304.5 233.8 C1304.9 234.5 1306.1 237.0 1306.5 237.6 C1306.8 238.2 1308.0 239.8 1308.4 240.5 C1308.8 241.2 1310.9 243.9 1311.3 244.7 C1311.7 245.6 1312.9 249.2 1313.2 250.1 C1313.5 251.1 1314.6 254.5 1314.8 255.0" class="cv"/>
<path d="M513.7 916.5 C514.6 916.4 521.8 914.9 523.7 914.7 C525.6 914.4 532.4 914.2 534.3 913.9 C536.1 913.6 541.8 911.7 543.5 911.3 C545.2 910.8 551.5 909.8 552.7 909.2 C553.9 908.6 556.0 906.2 556.7 904.7 C557.3 903.2 559.4 896.6 560.1 892.8 C560.8 889.1 563.9 867.3 564.6 863.8 C565.2 860.4 566.9 858.9 567.5 854.9 C568.0 850.9 569.6 825.4 570.1 820.1 C570.6 814.8 571.9 801.3 572.5 797.4 C573.0 793.5 575.5 779.7 576.2 777.4 C576.8 775.2 579.0 772.8 579.6 772.9 C580.2 773.0 581.9 776.5 582.5 778.7 C583.1 781.0 585.4 793.4 586.2 797.4 C587.0 801.4 590.3 819.3 591.2 822.5 C592.1 825.7 595.4 830.5 596.2 832.2 C597.0 834.0 599.5 840.3 600.1 841.4 C600.7 842.6 602.3 844.9 602.8 844.9 C603.2 844.9 604.7 843.1 605.4 841.4 C606.1 839.8 609.7 830.0 610.7 826.9 C611.6 823.9 615.1 812.4 615.9 808.5 C616.8 804.6 619.2 790.1 619.9 784.8 C620.6 779.5 623.1 756.1 623.8 750.5 C624.6 745.0 627.1 727.8 627.8 724.2 C628.5 720.6 630.2 712.9 631.0 711.0 C631.7 709.1 634.8 705.3 635.7 703.1 C636.6 700.9 640.1 689.9 641.0 687.3 C641.8 684.6 644.2 676.3 644.9 674.1 C645.7 671.9 648.2 663.8 648.9 663.0 C649.6 662.3 652.1 665.6 652.8 666.2 C653.6 666.9 656.4 669.5 657.3 670.2 C658.2 670.8 662.0 672.9 662.8 673.6 C663.7 674.3 665.9 676.6 666.5 678.1 C667.2 679.6 669.3 687.6 670.0 689.9 C670.6 692.2 673.2 700.9 673.9 703.1 C674.6 705.3 677.1 711.6 677.9 713.6 C678.6 715.7 681.1 724.0 681.8 725.5 C682.5 726.9 684.9 729.3 685.8 729.4 C686.6 729.6 690.1 727.2 691.0 726.8 C692.0 726.4 695.3 725.1 696.3 725.5 C697.3 725.9 700.6 729.6 701.6 730.8 C702.5 732.0 706.1 737.9 706.9 738.7 C707.6 739.4 709.0 739.4 709.5 738.7 C710.0 737.9 711.6 730.9 712.1 730.8 C712.6 730.6 714.3 735.5 714.8 737.4 C715.2 739.2 716.9 747.4 717.4 750.5 C717.9 753.7 719.4 768.0 720.0 771.6 C720.6 775.2 723.3 787.3 724.0 790.1 C724.7 792.8 727.3 800.6 727.9 801.9 C728.6 803.2 730.5 804.9 731.1 804.5 C731.7 804.2 733.8 800.5 734.5 798.0 C735.2 795.4 737.9 780.5 738.5 776.9 C739.1 773.3 740.4 761.8 741.1 758.4 C741.8 755.1 745.5 742.9 746.4 740.0 C747.2 737.1 749.6 728.6 750.3 726.8 C751.1 725.0 753.3 721.3 754.3 720.2 C755.2 719.1 759.8 716.5 760.9 715.0 C762.0 713.4 765.2 704.9 766.1 703.1 C767.1 701.3 770.6 696.0 771.4 695.2 C772.3 694.3 774.5 693.6 775.4 693.9 C776.3 694.1 780.0 696.9 781.2 697.8 C782.4 698.7 787.4 703.4 788.5 703.6 C789.7 703.9 792.8 700.9 793.8 700.5 C794.8 700.1 798.2 698.7 799.1 699.1 C799.9 699.6 802.2 704.5 803.0 705.7 C803.9 706.9 807.1 711.4 808.3 712.3 C809.5 713.3 814.6 715.5 816.2 716.3 C817.8 717.0 823.7 719.9 825.4 720.2 C827.1 720.5 833.2 719.8 834.7 719.4 C836.1 719.1 839.8 717.6 841.2 716.3 C842.6 714.9 848.8 705.9 849.9 704.4 C851.0 703.0 852.4 701.3 853.2 700.5 C854.0 699.6 857.5 696.0 858.4 695.2 C859.4 694.4 862.8 692.6 863.7 692.0 C864.6 691.4 867.7 689.2 868.5 688.6 C869.2 688.0 871.5 686.0 872.1 685.2 C872.8 684.3 874.9 680.9 875.6 679.4 C876.2 677.9 878.9 670.5 879.5 668.8 C880.2 667.2 882.2 662.3 882.7 661.5 C883.2 660.6 884.8 659.5 885.3 659.6 C885.8 659.8 887.5 662.2 888.0 663.0 C888.4 663.9 890.1 667.9 890.6 668.8 C891.1 669.7 892.8 672.6 893.2 672.8 C893.7 673.0 895.0 672.6 895.3 671.5 C895.7 670.4 896.8 663.4 897.2 660.9 C897.5 658.5 898.9 647.9 899.3 645.1 C899.7 642.3 900.8 632.2 901.1 630.6 C901.5 629.1 902.9 627.5 903.2 628.0 C903.6 628.5 904.7 633.4 905.1 635.9 C905.4 638.4 906.8 651.9 907.2 655.7 C907.6 659.4 908.6 673.1 909.0 676.7 C909.4 680.4 911.2 692.5 911.7 695.2 C912.2 697.8 913.9 704.7 914.3 705.7 C914.7 706.7 916.0 707.0 916.4 706.3 C916.8 705.5 918.1 699.8 918.5 697.8 C919.0 695.8 920.6 686.8 921.2 684.7 C921.7 682.5 923.7 675.8 924.3 674.1 C925.0 672.4 927.5 666.8 928.3 665.7 C929.0 664.6 931.6 663.2 932.2 662.3 C932.8 661.3 934.4 657.7 934.9 655.7 C935.3 653.6 936.5 644.2 937.0 639.9 C937.4 635.5 939.1 613.5 939.6 608.2 C940.1 602.9 941.8 586.2 942.2 581.9 C942.7 577.5 944.4 564.4 944.9 560.8 C945.4 557.2 947.0 545.0 947.5 542.4 C948.0 539.7 949.6 533.6 950.1 531.8 C950.7 530.0 953.2 524.0 953.8 522.6 C954.5 521.2 956.6 517.1 957.3 516.5 C957.9 516.0 960.1 516.6 960.7 516.5 C961.3 516.4 963.3 516.7 963.8 515.5 C964.4 514.2 966.0 506.6 966.5 502.8 C967.0 499.0 968.6 479.6 969.1 473.8 C969.6 468.1 971.7 444.4 972.3 439.6 C972.9 434.8 975.1 424.5 975.7 421.1 C976.3 417.8 977.8 406.1 978.3 402.7 C978.9 399.3 981.2 387.2 981.8 384.3 C982.4 381.4 984.4 373.0 984.9 371.1 C985.5 369.1 987.0 364.0 987.6 363.2 C988.1 362.3 990.1 361.9 990.7 361.9 C991.3 361.9 993.6 363.5 994.2 363.2 C994.7 362.8 996.3 358.9 996.8 357.9 C997.3 356.9 998.9 352.7 999.4 351.8 C1000.0 350.9 1002.2 348.0 1002.8 347.8 C1003.4 347.7 1005.5 349.3 1006.0 349.9 C1006.5 350.6 1008.0 353.8 1008.6 355.3 C1009.2 356.7 1012.0 363.4 1012.6 365.8 C1013.2 368.2 1014.7 378.2 1015.2 381.6 C1015.7 385.0 1017.3 399.1 1017.9 402.7 C1018.5 406.3 1021.2 418.5 1021.8 421.1 C1022.4 423.8 1024.0 430.2 1024.5 431.7 C1024.9 433.1 1026.2 434.5 1026.6 437.0 C1026.9 439.4 1028.0 453.4 1028.4 458.0 C1028.8 462.6 1030.6 481.7 1031.0 487.0 C1031.5 492.3 1033.2 511.4 1033.7 516.0 C1034.2 520.6 1035.8 533.7 1036.3 537.1 C1036.9 540.5 1039.1 550.5 1039.7 552.9 C1040.4 555.3 1042.8 561.5 1043.4 563.4 C1044.0 565.4 1045.5 571.8 1046.1 574.0 C1046.6 576.2 1048.9 585.3 1049.5 587.2 C1050.1 589.0 1052.3 592.8 1052.9 593.7 C1053.6 594.6 1055.8 596.7 1056.6 596.9 C1057.4 597.1 1060.5 596.3 1061.3 596.4 C1062.1 596.4 1064.7 596.7 1065.3 597.7 C1065.9 598.7 1067.4 605.0 1067.9 606.9 C1068.4 608.8 1070.1 616.8 1070.6 618.8 C1071.0 620.7 1072.6 626.4 1073.2 628.0 C1073.8 629.6 1076.4 634.5 1077.2 635.9 C1077.9 637.4 1080.5 642.2 1081.1 643.8 C1081.7 645.4 1083.1 651.3 1083.7 653.0 C1084.3 654.7 1087.0 660.9 1087.7 662.3 C1088.4 663.6 1090.8 666.7 1091.6 667.5 C1092.5 668.3 1096.1 670.2 1096.9 670.9 C1097.8 671.7 1100.1 674.7 1100.9 675.4 C1101.6 676.2 1104.1 678.6 1104.8 679.4 C1105.5 680.2 1108.1 683.4 1108.8 684.1 C1109.4 684.8 1111.4 686.8 1111.9 686.8 C1112.5 686.7 1114.1 684.0 1114.6 683.3 C1115.0 682.7 1116.2 679.8 1116.7 679.4 C1117.2 679.0 1119.3 679.0 1119.8 678.9 C1120.4 678.7 1122.0 678.6 1122.5 678.1 C1123.0 677.5 1124.6 673.4 1125.1 672.8 C1125.6 672.1 1127.2 671.0 1127.7 670.9 C1128.3 670.9 1130.5 671.7 1131.2 672.0 C1131.8 672.3 1134.5 673.6 1135.1 674.1 C1135.8 674.7 1137.8 677.5 1138.3 678.1 C1138.8 678.7 1140.4 680.9 1140.9 680.7 C1141.4 680.5 1143.1 676.5 1143.6 675.4 C1144.0 674.3 1145.7 670.7 1146.2 668.8 C1146.7 667.0 1148.3 657.5 1148.8 655.7 C1149.4 653.9 1151.6 649.8 1152.3 649.1 C1152.9 648.4 1155.4 648.0 1156.2 647.8 C1157.1 647.5 1160.5 646.8 1161.5 646.4 C1162.4 646.1 1165.9 644.3 1166.7 643.8 C1167.6 643.3 1170.0 642.0 1170.7 641.2 C1171.4 640.3 1173.9 636.0 1174.7 634.6 C1175.4 633.1 1178.0 627.3 1178.6 625.4 C1179.2 623.4 1180.8 615.8 1181.2 613.5 C1181.7 611.2 1183.4 602.5 1183.9 600.3 C1184.4 598.2 1186.0 591.5 1186.5 589.8 C1187.1 588.1 1189.5 583.3 1189.9 581.9 C1190.4 580.5 1191.1 575.9 1191.4 574.6 C1191.8 573.3 1193.3 568.8 1193.7 567.8 C1194.1 566.9 1195.4 564.9 1195.9 564.4 C1196.5 564.0 1198.7 563.5 1199.3 563.3 C1199.9 563.1 1202.1 562.6 1202.7 562.2 C1203.3 561.8 1205.5 559.5 1206.1 558.8 C1206.7 558.1 1209.0 555.4 1209.5 554.3 C1210.0 553.2 1211.3 547.6 1211.7 546.4 C1212.2 545.1 1213.6 541.8 1214.0 540.7 C1214.4 539.7 1215.7 536.0 1216.3 535.1 C1216.8 534.2 1219.0 531.2 1219.6 530.6 C1220.3 530.0 1223.1 529.2 1223.7 528.3 C1224.3 527.5 1225.9 522.8 1226.4 521.6 C1226.9 520.3 1228.6 516.3 1229.1 514.8 C1229.6 513.2 1231.5 506.4 1232.1 504.6 C1232.6 502.9 1234.4 496.9 1235.0 495.6 C1235.6 494.3 1238.2 491.0 1238.8 490.0 C1239.5 488.9 1241.5 485.3 1242.2 484.3 C1242.9 483.3 1245.6 479.6 1246.3 478.7 C1247.0 477.7 1249.5 475.1 1250.1 474.2 C1250.8 473.2 1252.9 470.0 1253.5 468.5 C1254.1 467.1 1255.8 460.0 1256.2 458.4 C1256.7 456.7 1257.9 451.8 1258.5 450.5 C1259.0 449.1 1261.4 444.6 1262.1 443.7 C1262.8 442.8 1265.3 441.1 1265.9 440.7 C1266.6 440.4 1268.6 440.5 1269.3 440.3 C1270.0 440.0 1272.7 438.8 1273.4 438.0 C1274.0 437.3 1275.5 433.7 1276.1 432.4 C1276.6 431.0 1278.8 424.7 1279.5 423.4 C1280.1 422.0 1282.2 418.5 1282.8 417.7 C1283.5 416.9 1285.6 414.9 1286.2 414.3 C1286.9 413.8 1289.1 413.0 1289.6 412.1 C1290.1 411.1 1291.4 405.9 1291.9 404.2 C1292.4 402.4 1294.6 394.8 1295.3 392.9 C1295.9 391.0 1298.0 385.2 1298.6 383.9 C1299.3 382.5 1301.5 379.1 1302.0 378.2 C1302.6 377.3 1304.4 374.6 1305.0 374.4 C1305.5 374.2 1307.1 375.8 1307.7 376.0 C1308.2 376.2 1310.4 376.3 1311.1 376.6 C1311.7 376.9 1314.5 379.1 1314.9 379.3" class="cv"/>
<line x1="437.5" y1="383.0" x2="437.5" y2="295.5" stroke="#000" stroke-width="1.6"/><polygon points="437.5,280.0 432.6,297.5 442.4,297.5" fill="#000"/>
<line x1="580.6" y1="446.5" x2="580.6" y2="525.9" stroke="#000" stroke-width="1.6"/><polygon points="580.6,541.4 575.7,523.9 585.5,523.9" fill="#000"/>
<line x1="662.8" y1="259.5" x2="662.8" y2="174.8" stroke="#000" stroke-width="1.6"/><polygon points="662.8,159.3 657.9,176.8 667.7,176.8" fill="#000"/>
<line x1="926.2" y1="157.5" x2="926.2" y2="68.0" stroke="#000" stroke-width="1.6"/><polygon points="926.2,52.5 921.3,70.0 931.1,70.0" fill="#000"/>
<line x1="1122.6" y1="272.7" x2="1122.6" y2="183.5" stroke="#000" stroke-width="1.6"/><polygon points="1122.6,168.0 1117.7,185.5 1127.5,185.5" fill="#000"/>
<line x1="1297.5" y1="80.0" x2="1297.5" y2="36.5" stroke="#000" stroke-width="1.6"/><polygon points="1297.5,21.0 1292.6,38.5 1302.4,38.5" fill="#000"/>
<line x1="191.5" y1="1244.0" x2="191.5" y2="2144.0" class="gt"/>
<line x1="227.5" y1="1244.0" x2="227.5" y2="2144.0" class="gt"/>
<line x1="262.5" y1="1244.0" x2="262.5" y2="2144.0" class="gd"/>
<line x1="298.5" y1="1157.0" x2="298.5" y2="2144.0" class="gt"/>
<line x1="333.5" y1="1157.0" x2="333.5" y2="2144.0" class="gt"/>
<line x1="369.5" y1="1157.0" x2="369.5" y2="2144.0" class="gt"/>
<line x1="404.5" y1="1157.0" x2="404.5" y2="2144.0" class="gt"/>
<line x1="440.5" y1="1157.0" x2="440.5" y2="2144.0" class="gd"/>
<line x1="476.5" y1="1157.0" x2="476.5" y2="2144.0" class="gt"/>
<line x1="511.5" y1="1157.0" x2="511.5" y2="2144.0" class="gt"/>
<line x1="581.5" y1="1157.0" x2="581.5" y2="2144.0" class="gd"/>
<line x1="644.5" y1="1157.0" x2="644.5" y2="2144.0" class="gt"/>
<line x1="706.5" y1="1157.0" x2="706.5" y2="2144.0" class="gd"/>
<line x1="769.5" y1="1157.0" x2="769.5" y2="2144.0" class="gt"/>
<line x1="831.5" y1="1157.0" x2="831.5" y2="2144.0" class="gd"/>
<line x1="894.5" y1="1157.0" x2="894.5" y2="2144.0" class="gt"/>
<line x1="956.5" y1="1157.0" x2="956.5" y2="2144.0" class="gd"/>
<line x1="1019.5" y1="1157.0" x2="1019.5" y2="2144.0" class="gt"/>
<line x1="1081.5" y1="1157.0" x2="1081.5" y2="2144.0" class="gd"/>
<line x1="1144.5" y1="1157.0" x2="1144.5" y2="2144.0" class="gt"/>
<line x1="1206.5" y1="1157.0" x2="1206.5" y2="2144.0" class="gd"/>
<line x1="1269.5" y1="1157.0" x2="1269.5" y2="2144.0" class="gt"/>
<line x1="1331.5" y1="1157.0" x2="1331.5" y2="2144.0" class="gd"/>
<path d="M173.8 1151.0 V2146.1" class="ay"/>
<path d="M172.1 2144.0 H529 M551.5 2144.0 H1396" class="ax"/>
<path d="M191.6 2144.0 v13.0 M227.1 2144.0 v13.0 M262.7 2144.0 v23.0 M298.3 2144.0 v13.0 M333.8 2144.0 v13.0 M369.4 2144.0 v13.0 M404.9 2144.0 v13.0 M440.5 2144.0 v23.0 M476.1 2144.0 v13.0 M511.6 2144.0 v13.0 M581.9 2144.0 v23.0 M644.4 2144.0 v13.0 M706.9 2144.0 v23.0 M769.3 2144.0 v13.0 M831.8 2144.0 v23.0 M894.3 2144.0 v13.0 M956.8 2144.0 v23.0 M1019.3 2144.0 v13.0 M1081.7 2144.0 v23.0 M1144.2 2144.0 v13.0 M1206.7 2144.0 v23.0 M1269.2 2144.0 v13.0 M1331.7 2144.0 v23.0 M1394.1 2144.0 v13.0" class="tk"/>
<path d="M173.8 2107.6 h-18.8 M173.8 2034.1 h-10.2 M173.8 1960.6 h-10.2 M173.8 1887.0 h-10.2 M173.8 1813.5 h-10.2 M173.8 1740.0 h-18.8 M173.8 1666.5 h-10.2 M173.8 1593.0 h-10.2 M173.8 1519.4 h-10.2 M173.8 1445.9 h-10.2 M173.8 1372.4 h-18.8 M173.8 1298.9 h-10.2 M173.8 1225.4 h-10.2 M173.8 1151.8 h-10.2" class="tky"/>
<path d="M517.5 2166 L541.5 2125 M540 2166 L562.5 2125" stroke="#000" stroke-width="3.3" fill="none"/>
<text x="262.5" y="2208.6" class="tl tb" text-anchor="middle">3500</text>
<text x="440.3" y="2208.6" class="tl tb" text-anchor="middle">3000</text>
<text x="581.3" y="2208.6" class="tl tb" text-anchor="middle">1800</text>
<text x="706.3" y="2208.6" class="tl tb" text-anchor="middle">1600</text>
<text x="831.2" y="2208.6" class="tl tb" text-anchor="middle">1400</text>
<text x="956.2" y="2208.6" class="tl tb" text-anchor="middle">1200</text>
<text x="1081.1" y="2208.6" class="tl tb" text-anchor="middle">1000</text>
<text x="1206.1" y="2208.6" class="tl tb" text-anchor="middle">800</text>
<text x="1331.1" y="2208.6" class="tl tb" text-anchor="middle">600</text>
<text x="141.8" y="1382.7" class="tl tb" text-anchor="end">0,5</text>
<text x="141.8" y="1750.3" class="tl tb" text-anchor="end">0,0</text>
<text x="141.8" y="2117.9" class="tl tb" text-anchor="end">-0,5</text>
<text x="4.5" y="1164.3" class="pl">B</text>
<text y="2272.5" style="font-size:49.3px"><tspan x="632.1" style="letter-spacing:-2.30px">Waveno.</tspan><tspan x="808.3"> / </tspan><tspan x="847.6" style="letter-spacing:-1.07px">cm</tspan></text>
<text x="907.5" y="2245" class="sup" style="font-size:23.5px">-1</text>
<text transform="translate(38.6,1727) rotate(-90)" class="at" style="font-size:49px" textLength="59.5" lengthAdjust="spacingAndGlyphs">ΔA</text>
<text transform="translate(56.4,1665) rotate(-90)" class="sub" style="font-size:29px" textLength="18.5" lengthAdjust="spacingAndGlyphs">N</text>
<text x="1251.3" y="1485.4" class="at" style="letter-spacing:-0.3px">m - nm</text>
<text x="1251.6" y="1809.5" class="at" style="letter-spacing:-0.7px">nm - y</text>
<path d="M174.3 1344.1 C174.7 1343.8 177.9 1341.6 178.6 1341.3 C179.2 1340.9 180.8 1339.5 181.4 1339.8 C182.1 1340.2 184.9 1344.7 185.7 1345.0 C186.5 1345.2 189.1 1342.7 190.0 1342.7 C190.9 1342.7 194.6 1344.8 195.7 1345.0 C196.7 1345.1 200.5 1344.3 201.4 1344.1 C202.3 1343.9 204.9 1343.5 205.7 1342.7 C206.5 1341.9 209.0 1337.1 210.0 1335.5 C210.9 1334.0 214.6 1327.1 215.7 1325.6 C216.7 1324.0 220.3 1319.6 221.4 1318.4 C222.4 1317.2 226.0 1313.2 227.1 1312.1 C228.1 1311.1 231.8 1308.0 232.8 1307.0 C233.9 1306.0 237.4 1302.7 238.5 1301.3 C239.6 1299.9 243.7 1293.1 244.8 1291.3 C245.8 1289.5 248.9 1283.3 249.9 1281.3 C250.9 1279.3 254.5 1271.9 255.6 1269.9 C256.8 1267.9 261.2 1261.5 262.5 1259.9 C263.8 1258.3 268.4 1254.1 269.9 1252.8 C271.4 1251.4 277.3 1246.4 278.5 1245.1 C279.7 1243.7 281.7 1239.7 282.8 1238.5 C283.8 1237.2 288.5 1232.7 289.9 1231.4 C291.3 1230.0 296.9 1225.3 298.5 1224.2 C300.0 1223.1 305.3 1220.0 307.0 1219.4 C308.7 1218.8 315.3 1217.6 317.0 1217.6 C318.7 1217.7 324.0 1219.7 325.6 1219.9 C327.2 1220.2 332.7 1220.4 334.1 1220.5 C335.6 1220.6 339.8 1221.0 341.3 1221.4 C342.7 1221.7 348.3 1223.4 349.8 1224.2 C351.4 1225.0 356.6 1228.4 358.4 1229.9 C360.2 1231.4 367.7 1238.7 369.8 1240.5 C371.9 1242.3 379.2 1248.0 381.2 1249.9 C383.3 1251.8 390.5 1259.2 392.7 1261.3 C394.8 1263.4 402.8 1270.9 404.9 1272.7 C407.0 1274.6 413.7 1280.2 415.5 1281.9 C417.3 1283.6 423.6 1290.4 424.9 1291.3 C426.2 1292.2 428.9 1291.7 429.8 1291.3 C430.6 1290.9 433.4 1287.9 434.1 1287.0 C434.8 1286.2 436.9 1282.0 437.5 1282.2 C438.1 1282.3 440.0 1287.3 440.6 1288.4 C441.2 1289.5 443.4 1293.6 444.1 1294.2 C444.7 1294.7 446.9 1294.7 447.5 1294.2 C448.1 1293.6 450.0 1290.5 450.6 1288.4 C451.2 1286.4 453.5 1274.2 454.0 1271.3 C454.6 1268.4 456.4 1259.1 456.9 1257.0 C457.4 1254.9 459.2 1251.6 459.8 1248.5 C460.3 1245.3 462.1 1227.5 462.6 1222.8 C463.1 1218.1 464.9 1201.9 465.5 1197.1 C466.0 1192.3 467.9 1172.7 468.3 1170.0 C468.8 1167.2 470.0 1165.2 470.3 1167.1 C470.7 1169.1 471.7 1187.1 472.0 1191.4 C472.4 1195.7 473.6 1211.1 474.0 1214.2 C474.5 1217.4 476.4 1223.8 476.9 1225.6 C477.4 1227.5 479.2 1232.2 479.7 1234.2 C480.3 1236.2 482.1 1245.1 482.6 1247.1 C483.1 1249.0 484.9 1254.7 485.4 1255.6 C486.0 1256.5 487.9 1258.5 488.3 1257.0 C488.7 1255.6 489.9 1244.1 490.3 1239.9 C490.7 1235.7 492.2 1214.4 492.6 1211.4 C492.9 1208.4 493.7 1205.8 494.0 1207.1 C494.3 1208.4 495.6 1222.9 496.0 1225.6 C496.4 1228.4 497.9 1235.8 498.3 1237.1 C498.7 1238.4 500.2 1238.1 500.6 1239.9 C501.0 1241.7 502.2 1254.0 502.6 1257.0 C502.9 1260.1 504.1 1270.3 504.6 1272.7 C505.0 1275.2 506.8 1282.3 507.4 1284.2 C508.0 1286.0 510.3 1291.3 511.1 1292.7 C512.0 1294.2 515.8 1298.6 516.8 1299.9 C517.9 1301.2 521.5 1305.9 522.6 1307.0 C523.6 1308.1 527.7 1311.7 528.3 1312.1" class="cv"/>
<path d="M174.9 1686.9 C175.1 1687.5 176.4 1693.3 176.8 1693.6 C177.2 1694.0 179.0 1690.8 179.5 1690.9 C180.0 1691.1 181.7 1695.3 182.2 1695.0 C182.7 1694.8 184.4 1688.2 184.9 1688.2 C185.4 1688.2 187.0 1693.9 187.6 1695.0 C188.3 1696.1 191.0 1699.3 191.7 1699.9 C192.4 1700.4 194.5 1701.4 195.0 1701.0 C195.5 1700.5 196.6 1695.8 197.1 1695.0 C197.7 1694.2 200.5 1693.0 201.2 1692.3 C202.0 1691.5 204.5 1687.4 205.3 1686.9 C206.0 1686.3 208.7 1686.9 209.4 1686.3 C210.0 1685.7 211.6 1680.8 212.1 1680.1 C212.6 1679.4 214.2 1679.3 214.8 1678.7 C215.4 1678.1 218.1 1674.5 218.9 1673.8 C219.6 1673.1 222.2 1671.7 222.9 1671.1 C223.7 1670.6 226.3 1667.8 227.0 1667.9 C227.7 1667.9 230.3 1671.6 231.1 1671.9 C231.8 1672.2 234.4 1671.2 235.1 1671.1 C235.9 1671.0 238.5 1671.3 239.2 1671.1 C240.0 1670.9 242.5 1669.5 243.3 1669.2 C244.0 1668.9 246.7 1668.3 247.4 1667.9 C248.0 1667.4 250.0 1664.8 250.6 1664.6 C251.2 1664.4 253.5 1665.4 254.1 1665.7 C254.8 1665.9 257.4 1666.8 258.2 1667.3 C259.0 1667.8 261.8 1670.3 262.6 1671.1 C263.3 1671.9 265.6 1675.2 266.4 1676.0 C267.1 1676.8 269.7 1679.1 270.4 1680.1 C271.2 1681.1 273.6 1685.6 274.5 1686.9 C275.4 1688.1 278.9 1692.6 279.9 1693.6 C280.9 1694.7 284.2 1697.4 285.4 1698.3 C286.5 1699.1 291.0 1701.6 292.1 1702.6 C293.3 1703.6 296.6 1708.1 297.6 1709.1 C298.6 1710.2 302.0 1713.3 303.0 1714.0 C304.0 1714.8 307.4 1716.6 308.4 1717.3 C309.4 1717.9 312.9 1719.9 313.9 1720.8 C314.8 1721.7 317.9 1725.9 318.8 1727.0 C319.6 1728.2 322.6 1731.8 323.4 1733.0 C324.2 1734.2 326.7 1738.2 327.4 1739.8 C328.2 1741.4 330.8 1748.8 331.5 1750.7 C332.3 1752.5 334.8 1758.4 335.6 1760.2 C336.3 1761.9 338.9 1767.9 339.7 1769.7 C340.4 1771.4 342.9 1777.4 343.7 1779.2 C344.6 1780.9 348.2 1787.2 349.2 1788.7 C350.1 1790.1 353.6 1794.2 354.6 1795.4 C355.6 1796.7 358.9 1801.2 360.0 1802.2 C361.1 1803.2 365.4 1805.6 366.8 1806.3 C368.2 1807.0 373.3 1809.2 374.9 1809.6 C376.6 1810.0 382.8 1810.6 384.4 1810.6 C386.1 1810.7 391.2 1810.3 392.6 1810.4 C394.0 1810.5 398.3 1811.9 399.4 1811.7 C400.5 1811.6 403.7 1809.6 404.8 1809.0 C405.9 1808.4 410.3 1805.8 411.6 1804.9 C412.8 1804.1 417.3 1800.4 418.4 1799.5 C419.5 1798.6 422.9 1796.0 423.8 1794.9 C424.7 1793.8 427.1 1788.5 427.9 1787.3 C428.6 1786.1 431.2 1782.5 431.9 1781.9 C432.7 1781.2 435.2 1781.0 436.0 1780.5 C436.8 1780.0 439.6 1776.6 440.4 1776.4 C441.1 1776.3 443.3 1778.5 444.2 1778.6 C445.0 1778.7 448.6 1777.9 449.6 1777.8 C450.6 1777.6 454.0 1777.0 455.0 1777.0 C456.0 1777.0 459.7 1778.0 460.4 1777.8 C461.1 1777.6 462.2 1774.5 462.6 1775.1 C463.0 1775.7 464.4 1782.8 464.8 1784.6 C465.1 1786.3 466.1 1793.8 466.4 1794.1 C466.7 1794.3 467.7 1789.8 468.0 1787.3 C468.3 1784.8 469.4 1768.9 469.7 1766.9 C469.9 1765.0 470.6 1764.5 470.8 1766.1 C471.0 1767.7 471.6 1781.5 471.8 1784.6 C472.1 1787.6 473.0 1798.0 473.5 1799.5 C473.9 1801.1 476.1 1801.0 476.7 1801.4 C477.3 1801.8 479.4 1802.6 480.0 1803.6 C480.5 1804.5 482.2 1810.1 482.7 1811.7 C483.2 1813.3 484.9 1820.3 485.4 1821.2 C485.9 1822.2 487.6 1822.4 488.1 1822.0 C488.6 1821.7 490.4 1819.1 490.8 1817.2 C491.2 1815.2 492.2 1804.5 492.5 1800.9 C492.8 1797.3 493.8 1779.8 494.1 1777.8 C494.5 1775.8 495.9 1779.3 496.3 1779.2 C496.7 1779.0 498.1 1776.4 498.4 1776.4 C498.8 1776.4 499.8 1777.4 500.1 1779.2 C500.4 1780.9 501.2 1793.5 501.7 1795.4 C502.2 1797.4 504.5 1800.3 505.2 1800.3 C505.9 1800.4 508.4 1796.9 509.3 1796.0 C510.2 1795.0 513.7 1791.0 514.7 1790.0 C515.7 1789.0 519.2 1785.9 520.2 1785.1 C521.2 1784.3 524.8 1782.0 525.6 1781.3 C526.4 1780.7 528.6 1778.1 528.8 1777.8" class="cv"/>
<path d="M550.0 1372.1 C550.4 1372.5 553.6 1376.0 554.5 1376.6 C555.4 1377.2 558.8 1377.8 559.8 1378.2 C560.7 1378.6 564.1 1380.5 565.0 1380.8 C565.9 1381.2 568.8 1381.3 569.5 1381.9 C570.2 1382.4 572.1 1386.0 572.9 1386.6 C573.7 1387.2 577.2 1388.3 578.2 1388.7 C579.2 1389.2 582.5 1390.7 583.5 1391.4 C584.4 1392.0 587.8 1395.1 588.7 1395.8 C589.7 1396.6 593.2 1398.5 594.0 1399.3 C594.9 1400.1 597.2 1403.7 598.0 1404.5 C598.7 1405.4 601.2 1407.4 601.9 1408.2 C602.6 1409.0 605.3 1412.6 605.9 1413.0 C606.5 1413.4 608.1 1413.3 608.5 1412.4 C608.9 1411.6 610.2 1405.6 610.6 1403.7 C611.1 1401.9 612.8 1393.7 613.3 1391.9 C613.7 1390.0 615.4 1383.9 615.9 1383.5 C616.4 1383.0 618.3 1386.1 619.1 1386.6 C619.8 1387.1 623.5 1388.3 624.3 1389.2 C625.1 1390.2 626.9 1396.7 627.5 1397.2 C628.1 1397.6 630.3 1394.5 630.9 1394.0 C631.5 1393.5 633.7 1392.0 634.3 1391.9 C635.0 1391.8 637.4 1392.8 638.0 1393.2 C638.7 1393.6 640.8 1395.3 641.4 1395.8 C642.1 1396.4 644.7 1398.3 645.4 1399.3 C646.1 1400.2 648.8 1405.5 649.4 1406.4 C650.0 1407.3 651.4 1409.1 652.0 1409.0 C652.6 1408.9 655.2 1405.8 655.9 1405.6 C656.7 1405.3 659.2 1405.9 659.9 1406.4 C660.6 1406.8 662.6 1409.4 663.3 1410.3 C664.0 1411.3 667.1 1415.3 667.8 1416.9 C668.5 1418.6 670.4 1427.0 671.0 1428.2 C671.6 1429.5 673.7 1429.9 674.4 1430.1 C675.1 1430.3 677.7 1430.5 678.3 1430.9 C679.0 1431.2 681.0 1433.5 681.5 1434.0 C682.0 1434.6 683.6 1437.0 684.1 1437.2 C684.6 1437.4 686.5 1436.8 687.0 1436.2 C687.5 1435.5 689.3 1432.1 689.7 1430.1 C690.1 1428.1 691.2 1417.8 691.5 1414.3 C691.9 1410.8 693.0 1396.4 693.4 1391.9 C693.7 1387.4 695.1 1370.1 695.5 1365.5 C695.9 1360.9 697.2 1345.7 697.6 1341.8 C698.0 1338.0 699.5 1326.5 699.9 1323.4 C700.4 1320.2 701.7 1309.8 702.1 1307.6 C702.4 1305.3 703.7 1300.2 704.2 1299.1 C704.6 1298.0 706.7 1296.1 707.3 1295.7 C707.9 1295.3 710.2 1295.1 710.8 1294.4 C711.3 1293.7 713.0 1288.6 713.4 1288.3 C713.8 1288.1 714.8 1290.5 715.2 1291.8 C715.6 1293.0 717.4 1302.8 717.9 1302.3 C718.3 1301.8 720.1 1289.6 720.5 1286.5 C720.9 1283.3 722.0 1269.8 722.3 1268.0 C722.7 1266.3 724.1 1265.8 724.5 1267.5 C724.8 1269.2 726.0 1282.6 726.3 1286.5 C726.6 1290.4 727.6 1306.1 727.9 1310.2 C728.2 1314.3 729.3 1328.1 729.7 1331.3 C730.1 1334.4 731.9 1341.6 732.4 1344.5 C732.8 1347.4 734.5 1359.3 735.0 1362.9 C735.5 1366.5 737.1 1380.5 737.6 1384.0 C738.2 1387.4 740.2 1398.1 740.8 1400.3 C741.4 1402.5 743.5 1406.2 744.2 1407.7 C744.9 1409.2 747.6 1415.5 748.2 1416.9 C748.8 1418.3 750.2 1422.3 750.8 1423.0 C751.4 1423.7 754.1 1424.5 754.8 1424.8 C755.4 1425.2 757.6 1426.3 758.2 1426.7 C758.7 1427.1 760.4 1429.6 760.8 1429.3 C761.3 1429.0 762.8 1425.5 763.2 1423.5 C763.6 1421.5 764.9 1410.2 765.3 1407.7 C765.7 1405.2 766.8 1397.1 767.1 1395.8 C767.5 1394.6 768.3 1393.6 768.7 1394.0 C769.1 1394.4 770.9 1399.8 771.4 1400.3 C771.8 1400.8 773.5 1401.3 774.0 1399.8 C774.5 1398.3 776.0 1387.8 776.4 1384.0 C776.8 1380.1 778.2 1363.7 778.5 1357.6 C778.8 1351.6 779.5 1323.9 779.8 1318.1 C780.0 1312.3 780.8 1298.3 781.1 1294.4 C781.4 1290.5 782.5 1278.4 783.0 1275.9 C783.4 1273.5 785.2 1269.5 785.6 1268.0 C786.0 1266.6 787.3 1263.0 787.7 1260.1 C788.1 1257.2 789.4 1239.6 789.8 1236.4 C790.2 1233.2 792.0 1226.3 792.4 1225.3 C792.9 1224.4 794.6 1225.1 795.1 1225.9 C795.6 1226.6 797.2 1231.8 797.7 1233.8 C798.2 1235.7 800.4 1244.8 800.9 1247.0 C801.4 1249.1 802.6 1255.9 803.0 1257.5 C803.3 1259.1 804.5 1264.0 804.8 1264.1 C805.2 1264.2 806.3 1260.0 806.7 1258.8 C807.0 1257.6 808.4 1251.5 808.8 1250.9 C809.1 1250.3 810.3 1250.4 810.6 1252.2 C811.0 1254.0 812.3 1268.0 812.7 1270.7 C813.2 1273.3 814.9 1279.5 815.4 1281.2 C815.8 1282.9 817.4 1287.4 818.0 1289.1 C818.6 1290.8 820.9 1297.2 821.4 1299.7 C822.0 1302.1 823.6 1312.3 824.1 1315.5 C824.5 1318.6 826.2 1331.1 826.7 1333.9 C827.2 1336.7 829.2 1343.6 829.9 1345.8 C830.5 1347.9 833.1 1355.7 833.8 1357.6 C834.5 1359.6 836.6 1365.9 837.2 1366.9 C837.9 1367.8 840.3 1368.4 840.9 1368.2 C841.6 1367.9 843.7 1364.9 844.3 1364.2 C845.0 1363.5 847.1 1360.6 847.8 1360.3 C848.4 1359.9 850.8 1360.7 851.5 1360.3 C852.1 1359.8 854.3 1356.4 854.9 1355.0 C855.4 1353.5 857.0 1346.9 857.5 1344.5 C858.0 1342.0 859.7 1330.8 860.2 1328.6 C860.6 1326.5 862.3 1322.9 862.8 1320.7 C863.3 1318.6 865.0 1307.3 865.4 1304.9 C865.9 1302.5 867.2 1295.5 867.5 1294.4 C867.9 1293.3 869.0 1292.3 869.4 1293.1 C869.7 1293.8 871.1 1300.0 871.5 1302.3 C871.9 1304.6 873.0 1315.2 873.3 1318.1 C873.7 1321.0 874.8 1331.5 875.2 1333.9 C875.5 1336.3 876.9 1344.5 877.3 1344.5 C877.7 1344.5 879.0 1336.3 879.4 1333.9 C879.8 1331.5 880.8 1320.3 881.2 1318.1 C881.6 1315.9 883.4 1310.5 883.9 1310.2 C884.4 1309.9 886.0 1314.7 886.5 1314.9 C887.1 1315.2 889.4 1313.8 889.9 1312.8 C890.4 1311.9 891.4 1305.2 891.9 1304.4 C892.3 1303.6 894.0 1303.3 894.5 1303.6 C895.0 1303.9 896.6 1307.3 897.1 1307.6 C897.6 1307.8 899.3 1306.7 899.8 1306.2 C900.2 1305.8 901.9 1302.0 902.4 1302.3 C902.9 1302.6 905.1 1310.2 905.6 1309.7 C906.0 1309.2 907.3 1301.6 907.7 1297.0 C908.0 1292.5 909.2 1264.8 909.5 1260.1 C909.9 1255.5 911.2 1247.2 911.6 1246.4 C912.0 1245.7 913.4 1250.5 913.7 1252.2 C914.1 1254.0 915.2 1261.8 915.6 1265.4 C915.9 1269.0 917.1 1287.4 917.4 1291.8 C917.8 1296.1 919.1 1309.6 919.5 1312.8 C920.0 1316.1 921.7 1325.4 922.2 1327.3 C922.6 1329.3 924.4 1333.8 924.8 1333.9 C925.2 1334.0 926.5 1330.3 926.9 1328.6 C927.3 1327.0 928.4 1318.4 928.7 1315.5 C929.1 1312.6 930.2 1299.6 930.6 1297.0 C931.0 1294.4 932.3 1287.7 932.7 1287.0 C933.1 1286.3 934.4 1288.3 934.8 1289.1 C935.2 1289.9 937.0 1294.9 937.4 1295.7 C937.9 1296.5 939.0 1298.4 939.3 1297.5 C939.6 1296.7 940.7 1288.6 941.1 1286.5 C941.5 1284.4 943.2 1276.1 943.8 1274.6 C944.3 1273.1 946.6 1270.9 947.2 1270.1 C947.7 1269.4 949.4 1267.9 949.8 1266.7 C950.2 1265.6 951.4 1260.8 951.7 1257.5 C952.0 1254.2 952.9 1235.5 953.3 1231.1 C953.6 1226.8 954.8 1211.0 955.1 1209.5 C955.4 1208.1 956.6 1212.9 956.9 1215.3 C957.3 1217.8 958.2 1232.3 958.5 1236.4 C958.8 1240.5 960.0 1255.8 960.4 1260.1 C960.7 1264.5 961.9 1280.2 962.2 1283.8 C962.6 1287.5 963.9 1297.7 964.3 1299.7 C964.8 1301.6 966.5 1304.2 967.0 1304.9 C967.4 1305.7 969.1 1306.2 969.6 1307.6 C970.1 1308.9 971.8 1319.4 972.2 1319.4 C972.7 1319.4 974.0 1310.3 974.3 1307.6 C974.7 1304.8 975.8 1292.0 976.2 1289.1 C976.5 1286.2 977.7 1278.6 978.0 1275.9 C978.4 1273.3 979.7 1264.7 980.1 1260.1 C980.5 1255.5 981.9 1232.2 982.2 1225.9 C982.6 1219.6 983.8 1195.2 984.1 1191.6 C984.4 1188.0 985.1 1185.6 985.4 1186.4 C985.7 1187.1 987.1 1197.4 987.5 1199.5 C987.9 1201.7 989.0 1208.1 989.4 1210.1 C989.7 1212.0 990.8 1216.7 991.2 1220.6 C991.6 1224.5 992.9 1246.2 993.3 1252.2 C993.7 1258.3 994.8 1279.2 995.2 1286.5 C995.5 1293.7 996.9 1323.8 997.3 1331.3 C997.6 1338.8 998.8 1363.0 999.1 1368.2 C999.4 1373.4 1000.4 1386.2 1000.7 1387.9 C1001.0 1389.6 1002.2 1387.9 1002.5 1386.6 C1002.9 1385.3 1004.0 1375.9 1004.4 1373.4 C1004.7 1371.0 1006.1 1361.4 1006.5 1360.3 C1006.8 1359.2 1008.0 1359.9 1008.3 1361.6 C1008.7 1363.3 1010.0 1375.9 1010.4 1378.7 C1010.9 1381.5 1012.6 1389.2 1013.1 1391.9 C1013.6 1394.5 1015.2 1405.0 1015.7 1407.7 C1016.2 1410.4 1017.9 1418.8 1018.3 1420.9 C1018.8 1422.9 1020.5 1429.4 1021.0 1430.1 C1021.5 1430.8 1023.2 1430.3 1023.6 1428.8 C1024.0 1427.2 1025.1 1416.6 1025.5 1413.0 C1025.8 1409.3 1027.2 1392.9 1027.6 1389.2 C1027.9 1385.6 1029.0 1375.1 1029.4 1373.4 C1029.8 1371.8 1031.1 1371.1 1031.5 1371.6 C1031.9 1372.1 1033.3 1377.1 1033.6 1378.7 C1034.0 1380.3 1035.1 1388.0 1035.5 1389.2 C1035.8 1390.5 1037.2 1392.6 1037.6 1391.9 C1037.9 1391.2 1039.1 1383.8 1039.4 1381.3 C1039.8 1378.9 1040.9 1368.9 1041.3 1365.5 C1041.6 1362.2 1043.0 1347.6 1043.4 1344.5 C1043.8 1341.3 1045.1 1333.0 1045.5 1331.3 C1045.8 1329.5 1047.0 1325.7 1047.3 1325.5 C1047.7 1325.2 1049.1 1327.4 1049.4 1328.6 C1049.8 1329.9 1050.9 1337.0 1051.3 1339.2 C1051.7 1341.4 1053.4 1349.9 1053.9 1352.4 C1054.4 1354.8 1056.1 1363.8 1056.5 1365.5 C1057.0 1367.2 1058.3 1371.0 1058.7 1370.8 C1059.0 1370.6 1060.1 1364.0 1060.5 1362.9 C1060.9 1361.8 1062.2 1358.8 1062.6 1358.9 C1063.0 1359.1 1064.1 1362.9 1064.5 1364.2 C1064.8 1365.5 1066.1 1372.0 1066.6 1373.4 C1067.0 1374.9 1068.7 1379.4 1069.2 1380.0 C1069.7 1380.6 1071.3 1380.3 1071.8 1380.0 C1072.3 1379.7 1074.0 1376.8 1074.5 1376.6 C1074.9 1376.4 1076.6 1378.2 1077.1 1378.2 C1077.6 1378.1 1079.8 1378.2 1080.3 1376.1 C1080.7 1373.9 1081.7 1358.6 1082.1 1355.0 C1082.5 1351.4 1083.8 1338.3 1084.2 1337.1 C1084.7 1335.9 1086.4 1340.9 1086.9 1341.8 C1087.3 1342.7 1089.0 1346.1 1089.5 1347.1 C1090.0 1348.1 1091.6 1352.0 1092.1 1352.4 C1092.6 1352.7 1094.2 1351.1 1094.8 1351.0 C1095.3 1351.0 1097.6 1351.5 1098.2 1351.8 C1098.8 1352.2 1100.9 1354.6 1101.3 1355.0 C1101.8 1355.4 1103.0 1356.9 1103.5 1356.3 C1103.9 1355.7 1105.6 1349.5 1106.1 1348.4 C1106.6 1347.3 1108.3 1344.3 1108.7 1344.5 C1109.1 1344.6 1110.2 1348.9 1110.6 1349.7 C1110.9 1350.6 1112.3 1354.6 1112.7 1353.7 C1113.0 1352.7 1114.2 1342.0 1114.5 1339.2 C1114.9 1336.4 1116.3 1325.9 1116.6 1323.4 C1117.0 1320.8 1118.1 1313.4 1118.5 1311.5 C1118.8 1309.6 1120.0 1303.8 1120.3 1302.3 C1120.7 1300.8 1122.0 1294.4 1122.4 1294.9 C1122.8 1295.4 1124.2 1304.7 1124.5 1307.6 C1124.9 1310.4 1126.0 1323.1 1126.4 1326.0 C1126.7 1328.9 1127.9 1338.2 1128.2 1339.2 C1128.6 1340.1 1129.9 1338.5 1130.3 1336.5 C1130.7 1334.6 1132.1 1320.8 1132.4 1318.1 C1132.8 1315.4 1133.9 1307.0 1134.3 1307.0 C1134.6 1307.0 1135.8 1315.6 1136.1 1318.1 C1136.5 1320.6 1137.8 1331.7 1138.2 1333.9 C1138.6 1336.1 1139.9 1340.8 1140.3 1341.8 C1140.8 1342.8 1142.9 1344.6 1143.5 1345.0 C1144.2 1345.3 1146.7 1346.0 1147.5 1345.8 C1148.2 1345.5 1150.7 1342.9 1151.4 1342.3 C1152.1 1341.8 1154.8 1340.7 1155.4 1339.7 C1156.0 1338.7 1157.6 1333.5 1158.0 1331.3 C1158.4 1329.1 1159.7 1318.6 1160.1 1315.5 C1160.5 1312.3 1161.5 1299.7 1161.9 1297.0 C1162.4 1294.4 1164.1 1287.9 1164.6 1286.5 C1165.1 1285.0 1167.2 1281.7 1167.7 1281.2 C1168.3 1280.7 1169.9 1280.0 1170.4 1280.7 C1170.9 1281.4 1172.5 1287.4 1173.0 1289.1 C1173.5 1290.9 1175.2 1298.3 1175.7 1299.7 C1176.1 1301.1 1177.3 1304.9 1177.8 1304.4 C1178.2 1303.9 1179.9 1296.5 1180.4 1294.4 C1180.9 1292.3 1182.5 1284.4 1183.0 1281.2 C1183.5 1278.1 1185.2 1265.0 1185.7 1260.1 C1186.1 1255.3 1187.9 1233.6 1188.3 1228.5 C1188.7 1223.4 1190.0 1207.5 1190.4 1204.8 C1190.8 1202.1 1192.3 1199.4 1192.8 1199.0 C1193.2 1198.6 1195.0 1200.2 1195.4 1200.8 C1195.8 1201.5 1197.1 1203.3 1197.5 1206.1 C1197.9 1208.9 1199.3 1226.7 1199.6 1231.1 C1200.0 1235.6 1201.1 1250.5 1201.5 1254.9 C1201.8 1259.2 1203.2 1274.7 1203.6 1278.6 C1204.0 1282.4 1205.5 1294.1 1206.0 1297.0 C1206.4 1299.9 1208.1 1308.4 1208.6 1310.2 C1209.1 1312.0 1210.9 1315.1 1211.5 1316.8 C1212.0 1318.5 1214.0 1326.2 1214.7 1328.6 C1215.3 1331.1 1217.9 1341.2 1218.6 1343.1 C1219.3 1345.1 1221.8 1349.3 1222.6 1350.3 C1223.3 1351.2 1225.8 1353.7 1226.5 1353.7 C1227.2 1353.7 1229.3 1350.8 1229.9 1350.3 C1230.5 1349.7 1232.5 1349.6 1233.0 1348.0 C1233.4 1346.3 1234.5 1334.4 1234.8 1332.0 C1235.1 1329.6 1236.3 1321.9 1236.6 1321.7 C1237.0 1321.5 1238.6 1327.9 1238.9 1329.7 C1239.3 1331.5 1240.2 1340.9 1240.5 1341.1 C1240.8 1341.3 1241.8 1334.0 1242.1 1332.0 C1242.4 1330.0 1243.6 1320.7 1243.9 1319.4 C1244.3 1318.1 1245.5 1316.9 1245.8 1317.8 C1246.1 1318.8 1247.1 1328.3 1247.4 1329.7 C1247.7 1331.1 1248.7 1333.5 1249.0 1333.1 C1249.3 1332.7 1250.5 1326.4 1250.8 1325.1 C1251.1 1323.9 1252.3 1319.6 1252.6 1319.4 C1252.9 1319.2 1253.9 1321.3 1254.2 1322.8 C1254.5 1324.4 1255.5 1334.0 1255.8 1336.5 C1256.2 1339.1 1257.6 1348.5 1258.1 1350.2 C1258.6 1352.0 1260.6 1354.6 1261.1 1355.9 C1261.6 1357.3 1262.9 1363.5 1263.4 1365.1 C1263.8 1366.7 1265.8 1371.7 1266.3 1373.1 C1266.8 1374.4 1268.6 1379.2 1269.1 1379.9 C1269.5 1380.7 1270.8 1381.2 1271.3 1381.1 C1271.9 1381.0 1274.2 1379.4 1274.8 1378.8 C1275.4 1378.2 1277.2 1375.5 1277.7 1374.9 C1278.3 1374.3 1280.0 1372.0 1280.5 1371.9 C1281.0 1371.9 1282.8 1373.7 1283.2 1374.2 C1283.7 1374.7 1285.1 1377.2 1285.5 1377.6 C1285.9 1378.1 1287.0 1380.0 1287.3 1378.8 C1287.6 1377.5 1288.5 1365.5 1288.7 1363.9 C1288.9 1362.4 1289.4 1360.6 1289.6 1361.7 C1289.8 1362.7 1290.3 1373.7 1290.5 1375.4 C1290.8 1377.0 1291.9 1379.1 1292.4 1379.9 C1292.8 1380.8 1294.8 1383.8 1295.3 1384.5 C1295.9 1385.2 1297.8 1387.2 1298.3 1387.2 C1298.8 1387.3 1300.5 1384.6 1301.0 1385.0 C1301.6 1385.3 1303.8 1390.5 1304.5 1391.3 C1305.1 1392.1 1307.3 1393.3 1307.9 1393.6 C1308.5 1393.9 1310.7 1394.4 1311.3 1394.8 C1311.9 1395.1 1314.1 1397.5 1314.7 1397.7 C1315.4 1397.9 1317.6 1397.3 1318.2 1397.1 C1318.7 1396.8 1320.6 1394.7 1321.1 1394.8 C1321.7 1394.9 1323.3 1397.8 1323.9 1398.2 C1324.4 1398.6 1326.8 1398.9 1327.3 1398.7 C1327.8 1398.4 1328.6 1395.6 1328.9 1395.9 C1329.2 1396.2 1330.4 1400.5 1330.7 1401.6 C1331.1 1402.8 1332.2 1408.2 1332.5 1408.5 C1332.9 1408.8 1334.4 1405.4 1334.8 1405.0 C1335.3 1404.7 1337.2 1404.2 1337.6 1404.6 C1338.0 1405.0 1339.1 1408.4 1339.4 1409.6 C1339.7 1410.8 1340.7 1416.2 1341.0 1417.6 C1341.3 1419.0 1342.2 1423.8 1342.6 1424.5 C1343.0 1425.1 1345.0 1424.9 1345.6 1425.1 C1346.1 1425.4 1348.0 1426.1 1348.5 1426.7 C1349.1 1427.4 1350.7 1432.0 1351.3 1432.5 C1351.8 1432.9 1354.1 1431.6 1354.7 1432.0 C1355.3 1432.4 1357.1 1436.6 1357.7 1436.6 C1358.2 1436.5 1360.0 1432.9 1360.4 1431.3 C1360.8 1429.7 1361.9 1420.8 1362.2 1418.7 C1362.6 1416.7 1363.7 1409.7 1364.1 1408.5 C1364.4 1407.3 1365.4 1405.2 1365.7 1405.5 C1366.0 1405.8 1366.9 1410.7 1367.3 1411.9 C1367.6 1413.1 1368.8 1419.0 1369.1 1418.7 C1369.4 1418.5 1370.4 1412.1 1370.7 1409.6 C1371.0 1407.1 1372.0 1394.5 1372.3 1391.3 C1372.6 1388.2 1373.4 1377.2 1373.7 1375.4 C1373.9 1373.5 1374.4 1370.6 1374.6 1370.8 C1374.8 1371.0 1375.7 1376.0 1375.9 1377.6 C1376.2 1379.3 1377.2 1387.2 1377.5 1389.1 C1377.8 1390.9 1378.8 1396.3 1379.1 1398.2 C1379.4 1400.1 1380.6 1407.3 1381.0 1409.6 C1381.3 1411.9 1382.4 1422.4 1382.8 1423.3 C1383.2 1424.3 1385.1 1420.7 1385.5 1419.9 C1385.9 1419.1 1387.0 1414.3 1387.4 1414.2 C1387.7 1414.1 1388.7 1418.5 1389.0 1418.7 C1389.2 1419.0 1390.2 1418.3 1390.6 1416.5 C1390.9 1414.6 1392.1 1400.9 1392.4 1398.2 C1392.7 1395.5 1393.8 1387.8 1394.0 1386.8" class="cv"/>
<path d="M550.0 1742.2 C550.4 1741.9 553.8 1739.5 554.5 1739.1 C555.1 1738.6 556.6 1737.4 557.1 1737.5 C557.6 1737.5 559.2 1739.8 559.8 1739.6 C560.4 1739.4 563.0 1736.0 563.7 1735.6 C564.4 1735.3 567.0 1735.6 567.7 1735.6 C568.3 1735.7 570.5 1736.5 571.1 1736.4 C571.7 1736.4 573.7 1734.7 574.3 1734.8 C574.8 1735.0 576.7 1738.0 577.4 1738.3 C578.1 1738.5 581.0 1737.9 581.6 1737.5 C582.3 1737.1 584.1 1734.1 584.8 1733.8 C585.4 1733.5 588.0 1733.5 588.7 1733.8 C589.5 1734.1 592.1 1736.2 592.7 1737.0 C593.3 1737.7 594.9 1741.0 595.3 1742.2 C595.8 1743.4 597.1 1748.0 597.4 1750.1 C597.8 1752.3 599.0 1762.6 599.3 1765.9 C599.6 1769.3 600.8 1783.2 601.1 1787.0 C601.5 1790.9 602.9 1803.8 603.2 1808.1 C603.6 1812.5 605.0 1829.9 605.3 1834.5 C605.7 1839.0 606.9 1853.8 607.2 1858.2 C607.5 1862.5 608.7 1877.8 609.0 1881.9 C609.4 1886.0 610.3 1899.6 610.6 1903.0 C610.9 1906.3 612.1 1915.9 612.5 1918.8 C612.8 1921.7 613.9 1932.2 614.3 1934.6 C614.7 1937.0 616.0 1944.1 616.4 1944.6 C616.8 1945.1 618.2 1941.3 618.5 1939.9 C618.9 1938.5 620.0 1931.2 620.4 1929.3 C620.7 1927.4 621.9 1921.7 622.2 1918.8 C622.6 1915.9 623.9 1901.8 624.3 1897.7 C624.7 1893.6 626.1 1877.8 626.4 1874.0 C626.8 1870.1 627.9 1858.7 628.3 1855.5 C628.6 1852.4 629.8 1842.4 630.1 1839.7 C630.5 1837.1 631.8 1828.5 632.2 1826.5 C632.6 1824.6 633.9 1820.6 634.3 1818.6 C634.8 1816.7 636.6 1808.1 637.0 1805.5 C637.4 1802.8 638.4 1792.8 638.8 1789.7 C639.2 1786.5 641.0 1773.7 641.4 1771.2 C641.9 1768.7 643.6 1763.4 644.1 1762.0 C644.6 1760.5 646.2 1757.2 646.7 1755.4 C647.2 1753.6 648.9 1744.9 649.4 1742.2 C649.8 1739.6 651.6 1728.6 652.0 1726.4 C652.4 1724.2 653.5 1719.7 653.8 1718.5 C654.2 1717.3 655.5 1715.4 655.9 1713.2 C656.4 1711.1 658.0 1697.9 658.6 1694.9 C659.1 1691.9 661.1 1683.0 661.7 1680.4 C662.3 1677.9 664.5 1669.5 665.2 1667.2 C665.8 1665.0 668.1 1657.4 668.6 1655.4 C669.1 1653.3 670.6 1645.9 671.0 1644.8 C671.4 1643.8 672.6 1644.0 673.1 1644.3 C673.6 1644.7 675.9 1648.0 676.5 1648.8 C677.1 1649.6 679.0 1652.0 679.7 1652.8 C680.3 1653.5 683.0 1655.3 683.6 1656.7 C684.2 1658.2 685.8 1666.4 686.2 1668.6 C686.7 1670.7 688.5 1679.1 688.9 1680.4 C689.3 1681.8 690.4 1684.9 690.7 1683.1 C691.0 1681.2 692.0 1667.1 692.3 1660.7 C692.6 1654.3 693.8 1621.4 694.2 1613.2 C694.5 1605.0 695.6 1578.3 696.0 1571.1 C696.4 1563.8 697.7 1540.0 698.1 1534.2 C698.5 1528.4 700.3 1510.5 700.7 1507.8 C701.2 1505.1 702.5 1504.4 702.8 1504.7 C703.2 1504.9 704.3 1508.4 704.7 1510.5 C705.1 1512.6 706.8 1525.8 707.3 1527.6 C707.8 1529.4 709.4 1529.8 710.0 1530.2 C710.5 1530.6 712.9 1530.7 713.4 1532.1 C713.9 1533.4 714.9 1540.7 715.2 1544.7 C715.6 1548.8 716.7 1570.8 717.1 1576.3 C717.4 1581.9 718.7 1600.3 719.2 1605.3 C719.6 1610.4 721.3 1627.1 721.8 1631.7 C722.3 1636.3 723.9 1650.6 724.5 1655.4 C725.0 1660.2 727.1 1680.0 727.6 1684.4 C728.1 1688.7 729.7 1699.5 730.3 1702.7 C730.8 1706.0 733.0 1717.5 733.7 1719.8 C734.4 1722.1 736.9 1726.4 737.6 1727.7 C738.4 1729.1 740.9 1732.6 741.6 1734.3 C742.3 1736.0 744.4 1744.7 745.0 1746.2 C745.6 1747.6 747.5 1749.6 748.2 1750.1 C748.8 1750.7 751.4 1751.6 752.1 1752.2 C752.8 1752.8 755.0 1755.7 755.5 1756.7 C756.1 1757.8 757.7 1764.4 758.2 1763.8 C758.7 1763.2 760.3 1753.6 760.8 1750.1 C761.3 1746.7 763.0 1730.8 763.5 1726.4 C763.9 1722.1 764.9 1708.7 765.3 1702.7 C765.7 1696.7 767.5 1667.4 767.9 1660.7 C768.3 1653.9 769.4 1633.9 769.8 1629.0 C770.1 1624.2 771.5 1611.8 771.9 1608.0 C772.3 1604.1 773.6 1590.3 774.0 1586.9 C774.4 1583.5 776.0 1574.9 776.4 1571.1 C776.8 1567.2 778.1 1548.4 778.5 1544.7 C778.8 1541.0 780.0 1532.3 780.3 1531.0 C780.7 1529.7 782.0 1530.1 782.4 1530.2 C782.9 1530.4 784.6 1532.7 785.1 1532.9 C785.5 1533.0 786.5 1533.1 786.9 1531.5 C787.3 1530.0 788.6 1518.8 789.0 1515.7 C789.4 1512.7 790.5 1500.5 790.9 1498.6 C791.2 1496.7 792.1 1494.9 792.4 1495.2 C792.8 1495.4 793.9 1499.7 794.3 1501.2 C794.7 1502.8 796.4 1509.7 796.9 1511.8 C797.4 1513.8 799.1 1521.3 799.6 1523.6 C800.0 1525.9 801.7 1535.5 802.2 1536.8 C802.7 1538.1 804.3 1538.1 804.8 1538.1 C805.3 1538.1 807.0 1536.6 807.5 1536.8 C807.9 1537.1 808.9 1538.8 809.3 1540.8 C809.7 1542.7 811.0 1553.7 811.4 1557.9 C811.8 1562.1 813.6 1581.8 814.0 1586.9 C814.5 1591.9 815.8 1609.1 816.2 1613.2 C816.5 1617.3 817.6 1628.5 818.0 1631.7 C818.4 1634.8 820.1 1644.3 820.6 1647.5 C821.1 1650.6 822.8 1662.5 823.3 1665.9 C823.8 1669.3 825.4 1681.1 825.9 1684.4 C826.4 1687.6 828.1 1699.2 828.5 1701.4 C829.0 1703.5 830.7 1707.1 831.2 1708.0 C831.7 1708.8 833.2 1710.7 833.8 1710.6 C834.4 1710.5 837.0 1707.4 837.8 1706.7 C838.5 1705.9 841.0 1703.3 841.7 1702.7 C842.4 1702.1 845.0 1701.2 845.7 1700.6 C846.3 1700.0 848.3 1697.1 848.8 1696.1 C849.4 1695.1 851.0 1692.1 851.5 1689.5 C851.9 1687.0 853.2 1671.9 853.6 1668.6 C854.0 1665.2 855.2 1655.0 855.7 1652.8 C856.1 1650.5 857.8 1644.6 858.3 1643.5 C858.8 1642.4 860.9 1642.0 861.5 1640.9 C862.0 1639.8 863.6 1633.3 864.1 1631.7 C864.6 1630.1 866.3 1624.1 866.7 1623.2 C867.2 1622.4 868.4 1621.9 868.9 1622.5 C869.3 1623.0 871.0 1628.2 871.5 1629.0 C872.0 1629.9 873.7 1631.9 874.1 1631.7 C874.6 1631.4 876.1 1628.8 876.5 1626.4 C876.9 1624.0 878.2 1609.4 878.6 1605.3 C879.0 1601.2 880.1 1585.2 880.4 1581.6 C880.8 1578.0 882.1 1568.0 882.6 1565.8 C883.0 1563.6 884.5 1558.5 885.2 1557.9 C885.9 1557.3 889.3 1558.9 889.9 1559.2 C890.5 1559.5 891.4 1560.7 891.9 1561.1 C892.3 1561.4 894.0 1563.5 894.5 1563.2 C895.0 1562.9 896.7 1559.8 897.1 1557.9 C897.5 1556.0 898.6 1544.3 899.0 1542.1 C899.3 1539.9 900.6 1534.9 901.1 1534.2 C901.5 1533.4 903.3 1532.9 903.7 1533.6 C904.2 1534.4 905.4 1540.1 905.8 1542.1 C906.3 1544.1 908.0 1553.3 908.5 1555.3 C908.9 1557.2 910.7 1560.7 911.1 1563.2 C911.5 1565.6 912.6 1578.0 912.9 1581.6 C913.3 1585.2 914.4 1599.7 914.8 1602.7 C915.1 1605.7 916.5 1612.9 916.9 1614.5 C917.3 1616.2 918.6 1620.6 919.0 1620.6 C919.4 1620.6 921.2 1615.7 921.6 1614.5 C922.0 1613.4 923.1 1609.4 923.5 1608.0 C923.8 1606.5 925.0 1601.6 925.3 1598.7 C925.6 1595.8 926.6 1581.5 926.9 1576.3 C927.2 1571.1 928.4 1549.3 928.7 1542.1 C929.1 1534.8 930.3 1503.8 930.6 1497.3 C930.9 1490.8 931.9 1475.5 932.2 1470.9 C932.5 1466.3 933.7 1450.4 934.0 1447.2 C934.4 1444.1 935.7 1438.4 936.1 1436.7 C936.5 1435.0 938.1 1430.9 938.5 1428.8 C938.9 1426.6 940.2 1414.9 940.6 1413.0 C941.0 1411.0 942.1 1407.2 942.5 1407.7 C942.8 1408.2 944.2 1415.6 944.6 1418.2 C944.9 1420.9 946.0 1433.3 946.4 1436.7 C946.8 1440.1 948.1 1452.2 948.5 1455.1 C948.9 1458.0 950.1 1465.9 950.6 1468.3 C951.1 1470.7 953.3 1477.6 953.8 1481.5 C954.2 1485.3 955.3 1504.9 955.6 1510.5 C955.9 1516.0 956.9 1536.0 957.2 1542.1 C957.5 1548.1 958.8 1570.3 959.1 1576.3 C959.3 1582.4 960.1 1602.2 960.4 1608.0 C960.6 1613.8 961.4 1634.3 961.7 1639.6 C961.9 1644.9 962.8 1661.1 963.0 1665.9 C963.2 1670.7 963.6 1689.2 963.8 1692.2 C964.0 1695.1 964.8 1698.4 965.1 1698.0 C965.4 1697.5 966.5 1691.0 967.0 1686.9 C967.4 1682.7 969.2 1658.5 969.6 1652.8 C970.0 1647.0 971.3 1630.3 971.7 1623.8 C972.1 1617.2 973.2 1590.3 973.5 1581.6 C973.9 1572.9 975.0 1538.6 975.4 1528.9 C975.8 1519.2 977.1 1485.9 977.5 1476.2 C977.9 1466.5 979.2 1432.0 979.6 1423.5 C980.0 1415.1 981.1 1389.8 981.4 1384.0 C981.8 1378.1 983.0 1361.7 983.3 1359.7 C983.6 1357.8 984.6 1360.0 984.9 1362.9 C985.2 1365.8 986.4 1387.3 986.7 1391.9 C987.1 1396.5 988.2 1408.6 988.6 1413.0 C988.9 1417.3 990.2 1431.1 990.7 1439.3 C991.1 1447.5 992.9 1491.9 993.3 1502.6 C993.7 1513.2 994.8 1546.8 995.2 1555.3 C995.5 1563.7 996.5 1587.5 996.7 1594.8 C997.0 1602.0 997.8 1626.3 998.1 1634.3 C998.3 1642.3 999.6 1674.5 999.9 1681.7 C1000.2 1689.0 1001.4 1708.9 1001.7 1713.2 C1002.1 1717.6 1003.5 1727.5 1003.8 1729.1 C1004.2 1730.6 1005.6 1731.3 1006.0 1730.4 C1006.3 1729.4 1007.5 1721.3 1007.8 1718.5 C1008.1 1715.7 1009.3 1703.1 1009.6 1700.2 C1010.0 1697.3 1011.4 1688.8 1011.8 1687.0 C1012.1 1685.2 1013.4 1681.1 1013.9 1680.4 C1014.3 1679.7 1016.0 1679.1 1016.5 1679.1 C1017.0 1679.1 1018.6 1681.1 1019.1 1680.4 C1019.6 1679.7 1021.3 1673.0 1021.8 1671.2 C1022.2 1669.4 1024.0 1661.9 1024.4 1660.7 C1024.8 1659.5 1026.1 1657.8 1026.5 1658.0 C1026.9 1658.3 1028.5 1661.8 1028.9 1663.3 C1029.3 1664.7 1030.4 1672.0 1030.7 1673.8 C1031.1 1675.6 1032.4 1682.2 1032.8 1683.1 C1033.2 1683.9 1034.6 1683.9 1034.9 1683.1 C1035.3 1682.2 1036.4 1676.6 1036.8 1673.8 C1037.1 1671.1 1038.3 1656.9 1038.6 1652.8 C1039.0 1648.6 1040.4 1632.5 1040.7 1629.0 C1041.1 1625.5 1042.4 1616.0 1042.8 1614.5 C1043.3 1613.0 1045.1 1612.1 1045.5 1612.7 C1045.9 1613.3 1047.0 1617.9 1047.3 1621.1 C1047.7 1624.3 1048.9 1642.4 1049.2 1647.5 C1049.5 1652.6 1050.4 1670.7 1050.8 1676.5 C1051.1 1682.3 1052.3 1706.8 1052.6 1710.7 C1052.9 1714.7 1053.6 1718.6 1053.9 1719.8 C1054.3 1721.0 1056.1 1722.9 1056.5 1723.8 C1057.0 1724.6 1058.8 1726.6 1059.2 1729.1 C1059.5 1731.5 1060.3 1745.3 1060.5 1750.1 C1060.7 1755.0 1061.6 1776.0 1061.8 1781.8 C1062.1 1787.5 1062.9 1808.1 1063.1 1813.4 C1063.4 1818.7 1064.1 1835.4 1064.5 1839.7 C1064.8 1844.1 1066.2 1857.9 1066.6 1860.8 C1066.9 1863.7 1067.6 1871.0 1067.9 1871.3 C1068.2 1871.7 1069.4 1865.0 1069.7 1864.8 C1070.1 1864.5 1071.2 1866.7 1071.6 1868.7 C1071.9 1870.8 1073.3 1884.3 1073.7 1887.2 C1074.0 1890.1 1075.2 1897.4 1075.5 1900.3 C1075.8 1903.2 1076.8 1916.0 1077.1 1918.8 C1077.4 1921.6 1078.6 1928.9 1078.9 1930.6 C1079.3 1932.3 1080.5 1937.0 1080.8 1937.2 C1081.1 1937.5 1082.1 1933.8 1082.4 1933.3 C1082.7 1932.8 1083.9 1931.1 1084.2 1931.9 C1084.5 1932.8 1085.3 1939.8 1085.5 1942.5 C1085.8 1945.1 1086.6 1957.3 1086.9 1960.9 C1087.1 1964.6 1088.4 1977.9 1088.7 1982.0 C1089.0 1986.1 1090.0 2001.4 1090.3 2005.7 C1090.5 2010.1 1091.4 2025.3 1091.6 2029.4 C1091.8 2033.6 1092.7 2046.9 1092.9 2050.5 C1093.1 2054.2 1093.7 2066.1 1094.0 2069.0 C1094.2 2071.9 1095.0 2080.9 1095.3 2082.1 C1095.5 2083.4 1096.3 2082.9 1096.6 2082.1 C1096.9 2081.4 1097.9 2076.7 1098.2 2074.2 C1098.5 2071.8 1099.7 2059.7 1100.0 2055.8 C1100.4 2051.9 1101.5 2036.4 1101.9 2032.1 C1102.2 2027.7 1103.6 2012.7 1104.0 2008.4 C1104.4 2004.0 1105.7 1988.8 1106.1 1984.7 C1106.5 1980.5 1107.8 1967.4 1108.2 1963.6 C1108.6 1959.7 1109.7 1946.1 1110.0 1942.5 C1110.4 1938.9 1111.5 1926.9 1111.9 1924.0 C1112.2 1921.1 1113.6 1912.1 1114.0 1910.9 C1114.4 1909.6 1115.5 1909.6 1115.8 1910.3 C1116.2 1911.1 1117.3 1916.6 1117.7 1918.8 C1118.0 1921.0 1119.4 1931.9 1119.8 1934.6 C1120.2 1937.2 1121.9 1944.9 1122.4 1947.8 C1122.9 1950.7 1124.6 1962.8 1125.1 1966.2 C1125.5 1969.6 1126.8 1982.0 1127.2 1984.7 C1127.5 1987.3 1128.6 1994.2 1129.0 1995.2 C1129.4 1996.2 1131.2 1996.1 1131.6 1995.7 C1132.1 1995.4 1133.1 1991.8 1133.5 1991.2 C1133.9 1990.7 1135.7 1991.0 1136.1 1989.9 C1136.6 1988.8 1137.8 1981.6 1138.2 1979.4 C1138.7 1977.2 1140.4 1968.6 1140.9 1966.2 C1141.4 1963.8 1143.0 1955.4 1143.5 1953.0 C1144.0 1950.6 1145.7 1942.3 1146.1 1939.9 C1146.6 1937.4 1147.9 1929.6 1148.2 1926.7 C1148.6 1923.8 1149.8 1911.4 1150.1 1908.2 C1150.4 1905.1 1151.5 1895.3 1151.9 1892.4 C1152.3 1889.5 1154.1 1879.5 1154.6 1876.6 C1155.1 1873.7 1156.8 1863.5 1157.2 1860.8 C1157.6 1858.1 1158.9 1850.0 1159.3 1847.6 C1159.7 1845.2 1161.0 1836.9 1161.4 1834.5 C1161.9 1832.0 1163.6 1823.9 1164.1 1821.3 C1164.5 1818.6 1166.0 1807.9 1166.4 1805.5 C1166.8 1803.1 1168.1 1796.1 1168.5 1794.9 C1169.0 1793.8 1170.6 1793.1 1171.2 1792.8 C1171.7 1792.5 1174.0 1792.3 1174.6 1791.8 C1175.2 1791.2 1176.8 1788.7 1177.2 1787.0 C1177.6 1785.4 1178.7 1776.7 1179.1 1773.8 C1179.4 1770.9 1180.6 1759.0 1180.9 1755.4 C1181.3 1751.8 1182.6 1738.2 1183.0 1734.3 C1183.4 1730.5 1184.8 1717.6 1185.1 1713.2 C1185.5 1708.9 1186.6 1692.9 1187.0 1686.9 C1187.3 1680.9 1188.5 1652.3 1188.8 1647.5 C1189.2 1642.7 1190.5 1634.3 1190.9 1634.3 C1191.3 1634.3 1192.6 1643.9 1193.0 1647.5 C1193.5 1651.1 1195.0 1669.0 1195.4 1673.8 C1195.8 1678.7 1197.1 1695.4 1197.5 1700.2 C1197.9 1705.0 1199.3 1722.0 1199.6 1726.5 C1200.0 1731.1 1201.1 1746.3 1201.5 1750.1 C1201.8 1754.0 1203.0 1766.0 1203.3 1768.6 C1203.6 1771.1 1204.5 1777.1 1204.9 1777.8 C1205.3 1778.5 1206.9 1777.3 1207.3 1776.5 C1207.7 1775.6 1209.0 1769.6 1209.4 1768.6 C1209.8 1767.6 1211.1 1765.3 1211.5 1765.4 C1211.9 1765.5 1213.6 1768.9 1214.1 1769.9 C1214.6 1770.9 1216.3 1774.9 1216.8 1776.5 C1217.2 1778.1 1218.3 1785.5 1218.6 1787.0 C1218.9 1788.6 1220.1 1793.0 1220.4 1793.6 C1220.8 1794.2 1222.1 1794.5 1222.6 1793.6 C1223.0 1792.8 1224.7 1786.7 1225.2 1784.4 C1225.7 1782.1 1227.6 1770.1 1227.8 1768.6 C1228.1 1767.0 1227.7 1768.8 1227.9 1767.7 C1228.1 1766.6 1229.6 1758.7 1230.0 1756.7 C1230.3 1754.7 1231.5 1747.6 1231.9 1745.7 C1232.2 1743.8 1233.5 1737.3 1233.7 1736.3 C1234.0 1735.2 1234.7 1734.1 1235.0 1734.4 C1235.3 1734.7 1236.5 1738.5 1236.9 1739.4 C1237.2 1740.3 1238.6 1743.6 1238.9 1744.1 C1239.3 1744.7 1240.6 1745.9 1241.0 1745.7 C1241.3 1745.5 1242.3 1742.1 1242.5 1741.8 C1242.8 1741.5 1243.8 1742.0 1244.1 1742.6 C1244.4 1743.1 1245.4 1747.7 1245.7 1748.1 C1246.0 1748.4 1247.2 1746.8 1247.6 1746.5 C1248.0 1746.2 1249.6 1745.9 1249.9 1744.9 C1250.3 1744.0 1251.2 1737.5 1251.5 1736.3 C1251.8 1735.1 1252.5 1731.6 1252.8 1731.6 C1253.0 1731.5 1253.9 1735.0 1254.2 1735.5 C1254.5 1736.0 1255.9 1736.6 1256.2 1737.1 C1256.5 1737.5 1257.5 1739.4 1257.8 1740.2 C1258.1 1741.0 1259.0 1744.6 1259.4 1745.7 C1259.7 1746.8 1261.0 1751.0 1261.4 1752.0 C1261.8 1753.0 1263.0 1756.1 1263.3 1756.7 C1263.6 1757.3 1264.6 1758.6 1264.9 1758.3 C1265.1 1758.0 1266.1 1754.6 1266.4 1753.6 C1266.7 1752.6 1267.7 1748.4 1268.0 1747.3 C1268.3 1746.1 1269.5 1741.8 1269.9 1741.0 C1270.2 1740.2 1271.5 1739.4 1271.9 1738.6 C1272.3 1737.9 1273.6 1733.6 1274.0 1733.1 C1274.3 1732.7 1275.5 1734.1 1275.9 1733.9 C1276.2 1733.7 1277.8 1731.4 1278.2 1730.8 C1278.6 1730.1 1280.2 1727.8 1280.6 1726.9 C1280.9 1725.9 1281.8 1721.9 1282.1 1720.6 C1282.4 1719.3 1283.4 1714.1 1283.7 1712.7 C1284.0 1711.3 1285.2 1706.1 1285.6 1704.9 C1286.0 1703.6 1287.2 1699.9 1287.6 1699.4 C1288.0 1698.8 1289.6 1698.5 1290.0 1698.6 C1290.4 1698.6 1291.9 1699.6 1292.4 1700.1 C1292.8 1700.7 1294.0 1704.0 1294.4 1704.9 C1294.8 1705.7 1296.2 1708.8 1296.6 1709.6 C1297.0 1710.3 1298.3 1712.9 1298.6 1712.7 C1299.0 1712.5 1300.3 1707.5 1300.7 1707.2 C1301.1 1706.9 1302.5 1709.1 1302.9 1709.6 C1303.3 1710.0 1304.5 1711.5 1304.9 1711.9 C1305.3 1712.4 1306.6 1714.1 1307.0 1714.3 C1307.4 1714.4 1308.8 1713.3 1309.2 1713.5 C1309.6 1713.7 1310.8 1716.0 1311.2 1716.6 C1311.6 1717.3 1312.9 1720.2 1313.2 1720.6 C1313.6 1720.9 1314.5 1720.9 1314.8 1720.6 C1315.1 1720.2 1316.1 1717.5 1316.4 1716.6 C1316.7 1715.8 1317.7 1711.9 1318.0 1711.1 C1318.3 1710.3 1319.1 1708.2 1319.5 1708.0 C1319.9 1707.8 1321.7 1708.7 1322.2 1708.8 C1322.7 1708.9 1324.1 1708.9 1324.6 1708.8 C1325.0 1708.6 1326.6 1707.1 1326.9 1707.2 C1327.3 1707.3 1328.2 1708.9 1328.5 1709.6 C1328.8 1710.2 1330.2 1714.2 1330.5 1714.3 C1330.9 1714.4 1331.8 1710.8 1332.1 1710.4 C1332.5 1709.9 1333.9 1709.4 1334.3 1709.6 C1334.7 1709.8 1336.0 1712.0 1336.3 1712.7 C1336.7 1713.4 1337.7 1716.3 1337.9 1717.4 C1338.2 1718.6 1338.8 1724.0 1339.0 1725.3 C1339.3 1726.6 1340.3 1730.7 1340.6 1731.6 C1340.9 1732.4 1342.2 1734.3 1342.6 1734.7 C1343.0 1735.1 1344.6 1736.2 1345.0 1736.3 C1345.4 1736.4 1346.9 1735.7 1347.3 1735.5 C1347.8 1735.3 1349.3 1734.1 1349.7 1733.9 C1350.1 1733.7 1351.3 1732.5 1351.6 1733.1 C1351.8 1733.8 1352.3 1741.0 1352.5 1741.0 C1352.7 1741.0 1353.4 1734.5 1353.6 1733.1 C1353.8 1731.8 1354.5 1726.8 1354.7 1726.1 C1355.0 1725.3 1356.0 1724.7 1356.3 1725.0 C1356.6 1725.2 1357.6 1727.2 1357.9 1728.4 C1358.1 1729.6 1358.9 1736.6 1359.1 1737.9 C1359.4 1739.1 1360.3 1742.2 1360.7 1742.6 C1361.1 1742.9 1362.7 1742.6 1363.1 1741.8 C1363.4 1740.9 1364.3 1734.9 1364.6 1733.1 C1364.9 1731.3 1365.9 1724.2 1366.2 1722.1 C1366.5 1720.1 1367.9 1713.0 1368.2 1711.1 C1368.6 1709.3 1369.8 1703.4 1370.1 1701.7 C1370.5 1700.0 1371.7 1693.9 1372.0 1692.3 C1372.3 1690.7 1373.3 1685.4 1373.6 1684.4 C1373.8 1683.4 1374.6 1681.1 1374.8 1681.3 C1375.1 1681.4 1376.1 1685.3 1376.4 1686.0 C1376.7 1686.6 1378.0 1687.9 1378.3 1688.4 C1378.6 1688.8 1379.6 1689.5 1379.9 1690.7 C1380.1 1691.9 1380.9 1699.5 1381.1 1701.7 C1381.4 1703.9 1382.1 1712.0 1382.4 1714.3 C1382.6 1716.6 1383.6 1724.8 1383.8 1726.9 C1384.0 1728.9 1384.8 1735.0 1385.1 1736.3 C1385.4 1737.6 1386.7 1740.2 1387.1 1741.0 C1387.5 1741.8 1388.7 1744.5 1389.0 1744.9 C1389.3 1745.4 1390.3 1744.6 1390.6 1745.7 C1390.8 1746.8 1391.2 1754.6 1391.3 1756.7 C1391.5 1758.8 1392.2 1767.8 1392.4 1768.5 C1392.7 1769.2 1393.5 1765.6 1393.7 1764.6 C1393.9 1763.5 1394.4 1757.4 1394.5 1756.7" class="cv"/>
</svg>
</body></html>
